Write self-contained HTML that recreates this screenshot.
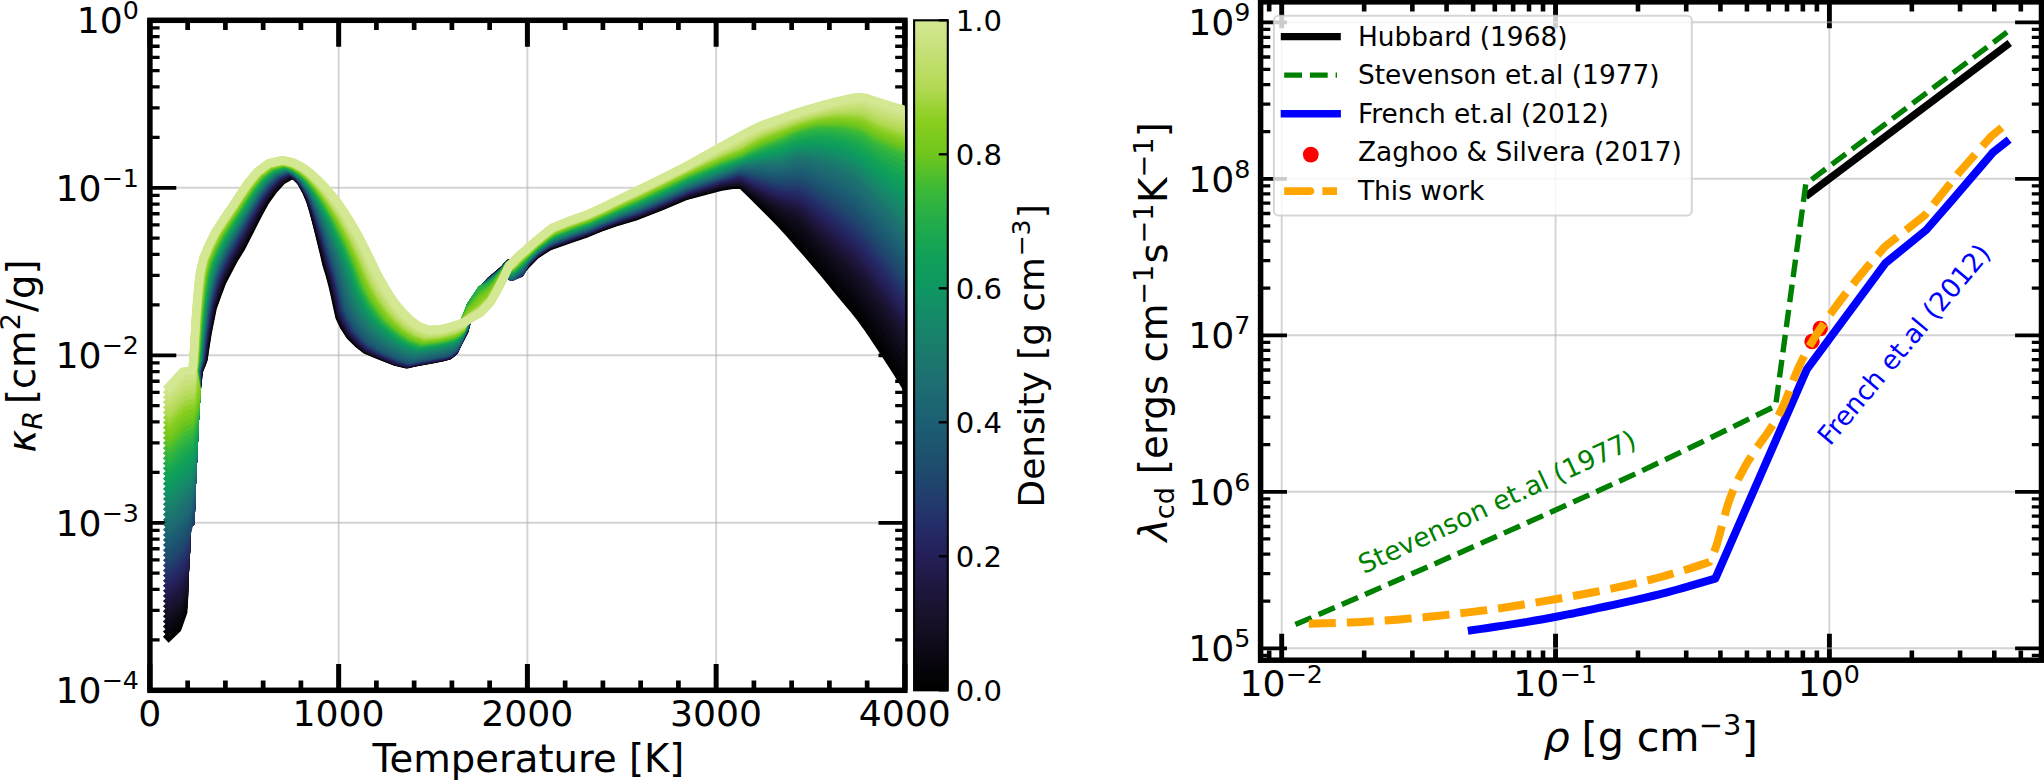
<!DOCTYPE html>
<html lang="en"><head><meta charset="utf-8"><title>Opacity and conductivity</title>
<style>html,body{margin:0;padding:0;background:#fff;overflow:hidden}svg{display:block}</style></head>
<body>
<svg width="2044" height="780" viewBox="0 0 2044 780" font-family="'DejaVu Sans','Liberation Sans',sans-serif" fill="#000">
<defs><clipPath id="clipL"><rect x="149.90" y="20.30" width="755.00" height="670.00"/></clipPath>
<clipPath id="clipR"><rect x="1260.60" y="1.85" width="780.90" height="658.35"/></clipPath></defs>
<rect width="2044" height="780" fill="#fff"/>
<line x1="338.65" y1="20.30" x2="338.65" y2="690.30" stroke="#b0b0b0" stroke-opacity="0.55" stroke-width="1.9"/>
<line x1="527.40" y1="20.30" x2="527.40" y2="690.30" stroke="#b0b0b0" stroke-opacity="0.55" stroke-width="1.9"/>
<line x1="716.15" y1="20.30" x2="716.15" y2="690.30" stroke="#b0b0b0" stroke-opacity="0.55" stroke-width="1.9"/>
<g stroke="#000" fill="none">
<path d="M149.90 690.30V663.90M149.90 20.30V46.70" stroke-width="5.0"/>
<path d="M187.65 690.30V680.60M187.65 20.30V30.00" stroke-width="4.7"/>
<path d="M225.40 690.30V680.60M225.40 20.30V30.00" stroke-width="4.7"/>
<path d="M263.15 690.30V680.60M263.15 20.30V30.00" stroke-width="4.7"/>
<path d="M300.90 690.30V680.60M300.90 20.30V30.00" stroke-width="4.7"/>
<path d="M338.65 690.30V663.90M338.65 20.30V46.70" stroke-width="5.0"/>
<path d="M376.40 690.30V680.60M376.40 20.30V30.00" stroke-width="4.7"/>
<path d="M414.15 690.30V680.60M414.15 20.30V30.00" stroke-width="4.7"/>
<path d="M451.90 690.30V680.60M451.90 20.30V30.00" stroke-width="4.7"/>
<path d="M489.65 690.30V680.60M489.65 20.30V30.00" stroke-width="4.7"/>
<path d="M527.40 690.30V663.90M527.40 20.30V46.70" stroke-width="5.0"/>
<path d="M565.15 690.30V680.60M565.15 20.30V30.00" stroke-width="4.7"/>
<path d="M602.90 690.30V680.60M602.90 20.30V30.00" stroke-width="4.7"/>
<path d="M640.65 690.30V680.60M640.65 20.30V30.00" stroke-width="4.7"/>
<path d="M678.40 690.30V680.60M678.40 20.30V30.00" stroke-width="4.7"/>
<path d="M716.15 690.30V663.90M716.15 20.30V46.70" stroke-width="5.0"/>
<path d="M753.90 690.30V680.60M753.90 20.30V30.00" stroke-width="4.7"/>
<path d="M791.65 690.30V680.60M791.65 20.30V30.00" stroke-width="4.7"/>
<path d="M829.40 690.30V680.60M829.40 20.30V30.00" stroke-width="4.7"/>
<path d="M867.15 690.30V680.60M867.15 20.30V30.00" stroke-width="4.7"/>
<path d="M904.90 690.30V663.90M904.90 20.30V46.70" stroke-width="5.0"/>
</g>
<line x1="149.90" y1="187.80" x2="904.90" y2="187.80" stroke="#b0b0b0" stroke-opacity="0.55" stroke-width="1.9"/>
<line x1="149.90" y1="355.30" x2="904.90" y2="355.30" stroke="#b0b0b0" stroke-opacity="0.55" stroke-width="1.9"/>
<line x1="149.90" y1="522.80" x2="904.90" y2="522.80" stroke="#b0b0b0" stroke-opacity="0.55" stroke-width="1.9"/>
<g stroke="#000" fill="none">
<path d="M149.90 690.30H176.30M904.90 690.30H878.50" stroke-width="3.7"/>
<path d="M149.90 639.88H159.60M904.90 639.88H895.20" stroke-width="3.3"/>
<path d="M149.90 610.38H159.60M904.90 610.38H895.20" stroke-width="3.3"/>
<path d="M149.90 589.45H159.60M904.90 589.45H895.20" stroke-width="3.3"/>
<path d="M149.90 573.22H159.60M904.90 573.22H895.20" stroke-width="3.3"/>
<path d="M149.90 559.96H159.60M904.90 559.96H895.20" stroke-width="3.3"/>
<path d="M149.90 548.75H159.60M904.90 548.75H895.20" stroke-width="3.3"/>
<path d="M149.90 539.03H159.60M904.90 539.03H895.20" stroke-width="3.3"/>
<path d="M149.90 530.46H159.60M904.90 530.46H895.20" stroke-width="3.3"/>
<path d="M149.90 522.80H176.30M904.90 522.80H878.50" stroke-width="3.7"/>
<path d="M149.90 472.38H159.60M904.90 472.38H895.20" stroke-width="3.3"/>
<path d="M149.90 442.88H159.60M904.90 442.88H895.20" stroke-width="3.3"/>
<path d="M149.90 421.95H159.60M904.90 421.95H895.20" stroke-width="3.3"/>
<path d="M149.90 405.72H159.60M904.90 405.72H895.20" stroke-width="3.3"/>
<path d="M149.90 392.46H159.60M904.90 392.46H895.20" stroke-width="3.3"/>
<path d="M149.90 381.25H159.60M904.90 381.25H895.20" stroke-width="3.3"/>
<path d="M149.90 371.53H159.60M904.90 371.53H895.20" stroke-width="3.3"/>
<path d="M149.90 362.96H159.60M904.90 362.96H895.20" stroke-width="3.3"/>
<path d="M149.90 355.30H176.30M904.90 355.30H878.50" stroke-width="3.7"/>
<path d="M149.90 304.88H159.60M904.90 304.88H895.20" stroke-width="3.3"/>
<path d="M149.90 275.38H159.60M904.90 275.38H895.20" stroke-width="3.3"/>
<path d="M149.90 254.45H159.60M904.90 254.45H895.20" stroke-width="3.3"/>
<path d="M149.90 238.22H159.60M904.90 238.22H895.20" stroke-width="3.3"/>
<path d="M149.90 224.96H159.60M904.90 224.96H895.20" stroke-width="3.3"/>
<path d="M149.90 213.75H159.60M904.90 213.75H895.20" stroke-width="3.3"/>
<path d="M149.90 204.03H159.60M904.90 204.03H895.20" stroke-width="3.3"/>
<path d="M149.90 195.46H159.60M904.90 195.46H895.20" stroke-width="3.3"/>
<path d="M149.90 187.80H176.30M904.90 187.80H878.50" stroke-width="3.7"/>
<path d="M149.90 137.38H159.60M904.90 137.38H895.20" stroke-width="3.3"/>
<path d="M149.90 107.88H159.60M904.90 107.88H895.20" stroke-width="3.3"/>
<path d="M149.90 86.95H159.60M904.90 86.95H895.20" stroke-width="3.3"/>
<path d="M149.90 70.72H159.60M904.90 70.72H895.20" stroke-width="3.3"/>
<path d="M149.90 57.46H159.60M904.90 57.46H895.20" stroke-width="3.3"/>
<path d="M149.90 46.25H159.60M904.90 46.25H895.20" stroke-width="3.3"/>
<path d="M149.90 36.53H159.60M904.90 36.53H895.20" stroke-width="3.3"/>
<path d="M149.90 27.96H159.60M904.90 27.96H895.20" stroke-width="3.3"/>
<path d="M149.90 20.30H176.30M904.90 20.30H878.50" stroke-width="3.7"/>
</g>
<rect x="149.90" y="20.30" width="755.00" height="670.00" fill="none" stroke="#000" stroke-width="5.5"/>
<g clip-path="url(#clipL)" fill="none" stroke-width="8.3" stroke-linecap="square" stroke-linejoin="round">
<path d="M168.8 636.8 L177.5 628.5 L183.3 611.8 L184.4 591.8 L184.4 581.0 L186.1 550.0 L186.1 523.2 L190.5 522.4 L192.0 481.0 L193.5 450.0 L195.0 417.0 L196.6 391.0 L199.0 371.0 L201.5 365.0 L203.6 359.4 L205.5 346.4 L207.6 333.3 L210.2 320.4 L212.8 307.5 L217.3 295.1 L221.9 282.7 L227.9 271.0 L234.1 259.3 L241.1 248.1 L247.1 236.4 L253.0 224.6 L259.0 212.9 L265.4 201.3 L273.1 190.6 L281.9 180.8 L293.2 174.1 L300.9 181.7 L306.1 191.2 L310.3 201.2 L313.4 211.6 L316.2 222.1 L318.8 232.6 L321.4 243.2 L324.0 253.7 L326.4 264.3 L329.6 274.7 L332.4 285.1 L334.8 295.7 L337.1 306.3 L339.4 316.9 L344.0 326.6 L349.9 335.7 L357.6 343.4 L366.0 350.0 L376.0 354.2 L386.1 358.2 L396.2 362.0 L406.8 364.4 L413.8 362.8 L420.8 361.4 L427.9 360.1 L435.0 358.8 L442.0 357.5 L449.0 355.6 L454.1 351.3 L457.2 344.9 L464.4 331.0 L470.8 306.5 L481.5 291.0 L490.6 280.7 L496.7 275.6 L504.4 269.0 L509.0 263.5 L511.5 266.0 L520.0 271.0 L526.0 265.0 L535.4 255.3 L547.7 247.2 L553.0 245.0 L571.5 238.5 L587.0 233.2 L602.3 227.0 L617.7 221.7 L637.0 216.0 L660.0 207.0 L686.0 196.0 L720.0 187.0 L740.4 183.6 L746.4 189.5 L752.4 195.4 L758.4 201.4 L764.4 207.4 L770.4 213.3 L776.4 219.4 L782.4 225.7 L788.4 232.3 L794.4 239.1 L800.4 246.0 L806.4 252.8 L812.4 259.7 L818.4 266.7 L824.4 273.8 L830.4 281.2 L836.4 288.6 L842.4 295.9 L848.4 303.0 L854.4 310.2 L860.4 317.8 L866.4 326.0 L872.4 334.7 L878.4 343.6 L884.4 352.7 L890.4 361.9 L896.4 371.4 L902.4 381.1 L906.0 387.0" stroke="#000000"/>
<path d="M168.8 631.7 L177.6 623.3 L183.5 606.9 L184.4 586.9 L184.4 581.0 L186.1 550.0 L186.1 523.2 L190.5 522.4 L192.0 481.0 L193.5 450.0 L195.0 417.0 L196.6 391.0 L198.8 371.0 L201.2 365.0 L203.3 359.4 L205.2 346.3 L207.3 333.3 L209.8 320.3 L212.4 307.3 L216.8 294.9 L221.3 282.4 L227.3 270.6 L233.5 259.0 L240.3 247.7 L246.5 236.0 L252.4 224.2 L258.5 212.4 L264.9 200.8 L272.7 190.1 L281.6 180.3 L292.9 173.8 L300.7 181.3 L306.0 190.6 L310.3 200.6 L313.5 211.0 L316.3 221.5 L319.0 232.0 L321.7 242.6 L324.3 253.1 L326.7 263.7 L329.9 274.1 L332.8 284.6 L335.2 295.2 L337.5 305.8 L339.8 316.4 L344.4 326.2 L350.2 335.3 L357.9 343.0 L366.2 349.7 L376.2 353.9 L386.2 357.9 L396.4 361.8 L406.9 364.2 L413.9 362.6 L420.9 361.2 L428.0 360.0 L435.0 358.7 L442.1 357.3 L449.0 355.5 L454.2 351.2 L457.2 344.8 L464.4 330.8 L470.8 306.5 L481.5 291.0 L490.6 280.8 L496.7 275.7 L504.4 269.1 L509.0 263.6 L511.5 266.8 L520.0 271.3 L526.0 264.7 L535.4 255.0 L547.7 246.9 L553.0 244.7 L571.5 238.2 L587.0 232.9 L602.3 226.6 L617.7 221.3 L637.0 215.5 L660.0 206.5 L686.0 195.5 L720.0 186.2 L740.4 182.9 L746.4 188.4 L752.4 193.9 L758.4 199.5 L764.4 205.0 L770.4 210.4 L776.4 216.0 L782.4 221.7 L788.4 227.5 L794.4 233.5 L800.4 239.7 L806.4 246.3 L812.4 253.1 L818.4 260.0 L824.4 267.0 L830.4 274.1 L836.4 281.2 L842.4 288.3 L848.4 295.1 L854.4 302.1 L860.4 309.5 L866.4 317.5 L872.4 326.1 L878.4 334.9 L884.4 343.8 L890.4 352.9 L896.4 362.2 L902.4 371.8 L906.0 377.6" stroke="#040307"/>
<path d="M168.8 626.6 L177.7 618.0 L183.7 601.9 L184.4 581.9 L186.1 550.0 L186.1 523.2 L190.5 522.4 L192.0 481.0 L193.5 450.0 L195.0 417.0 L196.6 391.0 L198.6 371.0 L201.0 365.0 L203.0 359.5 L204.9 346.3 L206.9 333.2 L209.4 320.2 L212.0 307.2 L216.3 294.6 L220.7 282.2 L226.6 270.3 L232.8 258.6 L239.6 247.2 L245.8 235.5 L251.8 223.7 L258.0 211.9 L264.4 200.3 L272.2 189.6 L281.2 179.9 L292.6 173.4 L300.5 180.8 L305.9 190.1 L310.3 200.0 L313.6 210.4 L316.5 220.9 L319.2 231.4 L321.9 242.0 L324.6 252.5 L327.1 263.1 L330.3 273.5 L333.1 284.0 L335.5 294.6 L337.8 305.3 L340.1 315.9 L344.7 325.7 L350.5 334.8 L358.1 342.6 L366.4 349.4 L376.4 353.6 L386.4 357.7 L396.5 361.6 L407.0 364.0 L414.0 362.5 L421.0 361.1 L428.0 359.8 L435.1 358.5 L442.1 357.2 L449.0 355.4 L454.2 351.1 L457.2 344.6 L464.4 330.6 L470.8 306.4 L481.5 290.9 L490.6 280.9 L496.7 275.8 L504.4 269.2 L509.0 263.6 L511.5 267.6 L520.0 271.6 L526.0 264.4 L535.4 254.8 L547.7 246.6 L553.0 244.4 L571.5 237.8 L587.0 232.5 L602.3 226.3 L617.7 220.9 L637.0 215.1 L660.0 206.0 L686.0 194.9 L720.0 185.4 L740.4 182.1 L746.4 187.3 L752.4 192.5 L758.4 197.6 L764.4 202.6 L770.4 207.6 L776.4 212.5 L782.4 217.6 L788.4 222.7 L794.4 227.8 L800.4 233.4 L806.4 239.7 L812.4 246.5 L818.4 253.4 L824.4 260.1 L830.4 266.9 L836.4 273.8 L842.4 280.6 L848.4 287.3 L854.4 294.0 L860.4 301.2 L866.4 309.1 L872.4 317.5 L878.4 326.1 L884.4 334.9 L890.4 343.9 L896.4 353.1 L902.4 362.5 L906.0 368.2" stroke="#08060e"/>
<path d="M168.8 621.5 L177.8 612.8 L183.9 597.0 L184.6 577.0 L186.1 550.0 L186.1 523.2 L190.5 522.4 L192.0 481.0 L193.5 450.0 L195.0 417.0 L196.6 391.0 L198.5 371.0 L200.8 365.0 L202.8 359.5 L204.6 346.3 L206.6 333.1 L209.0 320.1 L211.5 307.0 L215.7 294.4 L220.1 281.9 L225.9 270.0 L232.1 258.2 L238.9 246.8 L245.2 235.1 L251.3 223.2 L257.4 211.4 L263.9 199.8 L271.8 189.1 L280.8 179.4 L292.3 173.0 L300.3 180.3 L305.8 189.5 L310.3 199.4 L313.7 209.8 L316.6 220.3 L319.4 230.8 L322.2 241.4 L324.9 251.9 L327.4 262.5 L330.6 272.9 L333.5 283.4 L335.9 294.1 L338.2 304.7 L340.5 315.4 L345.0 325.2 L350.9 334.4 L358.4 342.2 L366.6 349.0 L376.5 353.3 L386.5 357.5 L396.6 361.4 L407.1 363.9 L414.1 362.3 L421.1 360.9 L428.1 359.7 L435.1 358.4 L442.1 357.0 L449.0 355.2 L454.2 351.0 L457.3 344.5 L464.4 330.4 L470.8 306.4 L481.5 290.9 L490.6 281.0 L496.7 275.9 L504.4 269.3 L509.0 263.7 L511.5 268.4 L520.0 271.9 L526.0 264.2 L535.4 254.5 L547.7 246.3 L553.0 244.0 L571.5 237.5 L587.0 232.2 L602.3 225.9 L617.7 220.5 L637.0 214.6 L660.0 205.5 L686.0 194.4 L720.0 184.7 L740.4 181.4 L746.4 186.2 L752.4 191.0 L758.4 195.6 L764.4 200.2 L770.4 204.7 L776.4 209.1 L782.4 213.6 L788.4 217.8 L794.4 222.2 L800.4 227.2 L806.4 233.1 L812.4 239.8 L818.4 246.7 L824.4 253.3 L830.4 259.8 L836.4 266.4 L842.4 273.0 L848.4 279.4 L854.4 285.9 L860.4 292.9 L866.4 300.7 L872.4 308.9 L878.4 317.4 L884.4 326.0 L890.4 334.8 L896.4 343.9 L902.4 353.2 L906.0 358.8" stroke="#0d0916"/>
<path d="M168.8 616.4 L177.9 607.5 L183.9 592.1 L184.9 572.1 L186.1 550.0 L186.1 523.2 L190.5 522.4 L192.0 481.0 L193.5 450.0 L195.0 417.0 L196.6 391.0 L198.3 371.0 L200.5 365.0 L202.5 359.5 L204.2 346.3 L206.2 333.1 L208.7 320.0 L211.1 306.9 L215.2 294.2 L219.5 281.6 L225.2 269.6 L231.4 257.8 L238.2 246.4 L244.5 234.6 L250.7 222.8 L256.9 211.0 L263.5 199.4 L271.3 188.6 L280.5 178.9 L292.0 172.6 L300.1 179.8 L305.7 189.0 L310.3 198.8 L313.8 209.2 L316.8 219.7 L319.7 230.2 L322.5 240.8 L325.2 251.3 L327.7 261.9 L331.0 272.3 L333.8 282.9 L336.2 293.5 L338.6 304.2 L340.9 314.9 L345.4 324.8 L351.2 333.9 L358.7 341.8 L366.9 348.7 L376.7 353.1 L386.7 357.2 L396.7 361.3 L407.2 363.7 L414.2 362.2 L421.2 360.8 L428.2 359.5 L435.2 358.2 L442.2 356.9 L449.1 355.1 L454.2 350.8 L457.3 344.4 L464.4 330.2 L470.8 306.4 L481.5 290.8 L490.6 281.1 L496.7 276.0 L504.4 269.3 L509.0 263.7 L511.5 269.3 L520.0 272.2 L526.0 263.9 L535.4 254.3 L547.7 246.0 L553.0 243.7 L571.5 237.2 L587.0 231.8 L602.3 225.6 L617.7 220.1 L637.0 214.1 L660.0 205.0 L686.0 193.8 L720.0 183.9 L740.4 180.7 L746.4 185.1 L752.4 189.5 L758.4 193.7 L764.4 197.8 L770.4 201.8 L776.4 205.7 L782.4 209.5 L788.4 213.0 L794.4 216.6 L800.4 220.9 L806.4 226.5 L812.4 233.2 L818.4 240.0 L824.4 246.4 L830.4 252.7 L836.4 259.0 L842.4 265.3 L848.4 271.5 L854.4 277.9 L860.4 284.7 L866.4 292.2 L872.4 300.3 L878.4 308.7 L884.4 317.1 L890.4 325.8 L896.4 334.7 L902.4 343.9 L906.0 349.4" stroke="#120d1e"/>
<path d="M168.8 611.3 L178.0 602.3 L183.9 587.2 L185.2 567.2 L186.1 550.0 L186.1 523.2 L190.5 522.4 L192.0 481.0 L193.5 450.0 L195.0 417.0 L196.6 391.0 L198.1 371.0 L200.3 365.0 L202.2 359.5 L203.9 346.3 L205.9 333.0 L208.3 319.9 L210.7 306.7 L214.7 294.0 L218.9 281.4 L224.6 269.3 L230.7 257.4 L237.5 245.9 L243.9 234.2 L250.1 222.3 L256.4 210.5 L263.0 198.9 L270.9 188.1 L280.1 178.4 L291.7 172.2 L299.9 179.3 L305.7 188.4 L310.3 198.2 L313.9 208.6 L317.0 219.1 L319.9 229.7 L322.7 240.2 L325.5 250.7 L328.1 261.3 L331.3 271.8 L334.2 282.3 L336.6 293.0 L338.9 303.7 L341.2 314.4 L345.7 324.3 L351.5 333.5 L359.0 341.4 L367.1 348.3 L376.9 352.8 L386.8 357.0 L396.8 361.1 L407.3 363.6 L414.3 362.0 L421.2 360.6 L428.2 359.4 L435.2 358.1 L442.2 356.8 L449.1 354.9 L454.3 350.7 L457.3 344.3 L464.4 330.0 L470.8 306.4 L481.5 290.8 L490.6 281.2 L496.7 276.1 L504.4 269.4 L509.0 263.8 L511.5 270.1 L520.0 272.5 L526.0 263.6 L535.4 254.0 L547.7 245.7 L553.0 243.4 L571.5 236.8 L587.0 231.5 L602.3 225.2 L617.7 219.7 L637.0 213.7 L660.0 204.5 L686.0 193.3 L720.0 183.1 L740.4 179.9 L746.4 184.0 L752.4 188.0 L758.4 191.8 L764.4 195.5 L770.4 199.0 L776.4 202.3 L782.4 205.6 L788.4 208.4 L794.4 211.3 L800.4 214.9 L806.4 220.2 L812.4 226.8 L818.4 233.6 L824.4 239.8 L830.4 245.8 L836.4 251.8 L842.4 257.9 L848.4 263.9 L854.4 270.1 L860.4 276.7 L866.4 284.1 L872.4 292.0 L878.4 300.2 L884.4 308.6 L890.4 317.1 L896.4 325.9 L902.4 334.9 L906.0 340.4" stroke="#161027"/>
<path d="M168.8 606.2 L178.1 597.0 L183.9 582.2 L185.4 562.2 L186.1 550.0 L186.1 523.2 L190.5 522.4 L192.0 481.0 L193.5 450.0 L195.0 417.0 L196.6 391.0 L197.9 371.0 L200.1 365.0 L201.9 359.5 L203.6 346.2 L205.6 333.0 L207.9 319.8 L210.2 306.6 L214.2 293.8 L218.3 281.1 L223.9 269.0 L230.0 257.0 L236.8 245.5 L243.2 233.7 L249.5 221.8 L255.8 210.0 L262.5 198.4 L270.4 187.6 L279.7 178.0 L291.4 171.8 L299.7 178.8 L305.6 187.9 L310.4 197.6 L314.0 208.0 L317.1 218.5 L320.1 229.1 L323.0 239.6 L325.8 250.1 L328.4 260.7 L331.7 271.2 L334.5 281.7 L337.0 292.4 L339.3 303.2 L341.6 313.9 L346.1 323.8 L351.8 333.1 L359.2 341.0 L367.3 348.0 L377.1 352.5 L387.0 356.8 L397.0 360.9 L407.4 363.4 L414.3 361.9 L421.3 360.5 L428.3 359.2 L435.3 357.9 L442.3 356.6 L449.1 354.8 L454.3 350.6 L457.4 344.2 L464.4 329.8 L470.8 306.3 L481.5 290.7 L490.6 281.3 L496.7 276.2 L504.4 269.5 L509.0 263.8 L511.5 271.0 L520.0 272.6 L526.0 263.3 L535.4 253.7 L547.7 245.4 L553.0 243.1 L571.5 236.5 L587.0 231.1 L602.3 224.9 L617.7 219.3 L637.0 213.2 L660.0 204.0 L686.0 192.7 L720.0 182.3 L740.4 178.8 L746.4 182.7 L752.4 186.5 L758.4 190.1 L764.4 193.6 L770.4 196.9 L776.4 200.1 L782.4 203.1 L788.4 205.6 L794.4 208.2 L800.4 211.5 L806.4 216.4 L812.4 222.7 L818.4 229.2 L824.4 235.2 L830.4 241.0 L836.4 246.9 L842.4 252.8 L848.4 258.7 L854.4 264.7 L860.4 271.2 L866.4 278.5 L872.4 286.4 L878.4 294.5 L884.4 302.8 L890.4 311.2 L896.4 319.9 L902.4 328.8 L906.0 334.3" stroke="#191330"/>
<path d="M168.8 601.1 L178.2 591.8 L184.1 577.3 L185.7 557.3 L186.1 550.0 L186.1 523.2 L190.5 522.4 L192.0 481.0 L193.5 450.0 L195.0 417.0 L196.6 391.0 L197.8 371.0 L199.8 365.0 L201.6 359.6 L203.3 346.2 L205.2 332.9 L207.5 319.7 L209.8 306.4 L213.7 293.6 L217.7 280.8 L223.2 268.6 L229.3 256.6 L236.1 245.0 L242.6 233.2 L248.9 221.4 L255.3 209.5 L262.0 197.9 L270.0 187.1 L279.4 177.5 L291.1 171.5 L299.5 178.3 L305.5 187.3 L310.4 197.1 L314.1 207.4 L317.3 217.9 L320.3 228.5 L323.3 239.0 L326.1 249.5 L328.8 260.1 L332.0 270.6 L334.9 281.2 L337.3 291.9 L339.7 302.6 L342.0 313.4 L346.4 323.3 L352.1 332.6 L359.5 340.6 L367.5 347.6 L377.3 352.2 L387.1 356.5 L397.1 360.7 L407.5 363.2 L414.4 361.7 L421.4 360.3 L428.4 359.1 L435.3 357.8 L442.3 356.5 L449.1 354.7 L454.3 350.4 L457.4 344.1 L464.4 329.6 L470.8 306.3 L481.5 290.7 L490.6 281.4 L496.7 276.3 L504.4 269.6 L509.0 263.9 L511.5 272.0 L520.0 272.8 L526.0 263.1 L535.4 253.5 L547.7 245.2 L553.0 242.8 L571.5 236.1 L587.0 230.8 L602.3 224.5 L617.7 218.9 L637.0 212.8 L660.0 203.5 L686.0 192.2 L720.0 181.6 L740.4 177.7 L746.4 181.4 L752.4 185.0 L758.4 188.4 L764.4 191.7 L770.4 194.8 L776.4 197.8 L782.4 200.6 L788.4 202.9 L794.4 205.1 L800.4 208.1 L806.4 212.7 L812.4 218.6 L818.4 224.8 L824.4 230.6 L830.4 236.2 L836.4 241.9 L842.4 247.7 L848.4 253.5 L854.4 259.4 L860.4 265.8 L866.4 273.0 L872.4 280.8 L878.4 288.8 L884.4 297.0 L890.4 305.4 L896.4 313.9 L902.4 322.7 L906.0 328.1" stroke="#1c1539"/>
<path d="M168.8 596.0 L178.3 586.5 L184.4 572.4 L186.0 552.4 L186.1 550.0 L186.1 523.2 L190.5 522.4 L192.0 481.0 L193.5 450.0 L195.0 417.0 L196.6 391.0 L197.6 371.0 L199.6 365.0 L201.4 359.6 L203.0 346.2 L204.9 332.8 L207.1 319.6 L209.4 306.3 L213.2 293.4 L217.2 280.6 L222.6 268.3 L228.7 256.3 L235.5 244.6 L242.0 232.8 L248.4 221.0 L254.8 209.1 L261.6 197.4 L269.6 186.6 L279.0 177.1 L290.9 171.1 L299.3 177.9 L305.4 186.8 L310.4 196.5 L314.2 206.8 L317.5 217.3 L320.6 227.8 L323.6 238.3 L326.4 248.8 L329.1 259.5 L332.4 269.9 L335.3 280.5 L337.8 291.2 L340.1 302.0 L342.4 312.8 L346.9 322.7 L352.5 332.1 L359.9 340.1 L367.9 347.2 L377.6 351.8 L387.4 356.2 L397.3 360.3 L407.7 362.9 L414.6 361.4 L421.5 360.1 L428.5 358.8 L435.4 357.5 L442.4 356.2 L449.2 354.4 L454.3 350.2 L457.4 343.9 L464.4 329.4 L470.8 306.3 L481.5 290.7 L490.6 281.5 L496.7 276.4 L504.4 269.7 L509.0 263.9 L511.5 273.0 L520.0 272.9 L526.0 262.8 L535.4 253.2 L547.7 244.9 L553.0 242.4 L571.5 235.8 L587.0 230.5 L602.3 224.2 L617.7 218.5 L637.0 212.3 L660.0 203.0 L686.0 191.6 L720.0 180.8 L740.4 176.6 L746.4 180.1 L752.4 183.5 L758.4 186.7 L764.4 189.8 L770.4 192.7 L776.4 195.5 L782.4 198.0 L788.4 200.1 L794.4 202.0 L800.4 204.7 L806.4 208.9 L812.4 214.5 L818.4 220.5 L824.4 226.0 L830.4 231.4 L836.4 237.0 L842.4 242.7 L848.4 248.3 L854.4 254.1 L860.4 260.4 L866.4 267.4 L872.4 275.1 L878.4 283.1 L884.4 291.2 L890.4 299.5 L896.4 308.0 L902.4 316.7 L906.0 322.0" stroke="#1f1843"/>
<path d="M168.8 590.9 L178.5 581.3 L184.6 567.4 L186.1 547.4 L186.1 523.2 L190.5 522.4 L192.0 481.0 L193.5 450.0 L195.0 417.0 L196.6 391.0 L197.4 371.0 L199.4 365.0 L201.1 359.6 L202.8 346.2 L204.6 332.8 L206.8 319.5 L209.0 306.1 L212.7 293.2 L216.6 280.3 L222.0 268.0 L228.0 255.9 L234.8 244.2 L241.4 232.4 L247.8 220.5 L254.3 208.7 L261.1 197.0 L269.2 186.2 L278.7 176.6 L290.6 170.8 L299.1 177.4 L305.3 186.2 L310.4 195.9 L314.3 206.2 L317.7 216.7 L320.8 227.2 L323.9 237.6 L326.8 248.2 L329.5 258.8 L332.8 269.2 L335.8 279.8 L338.2 290.5 L340.6 301.3 L342.9 312.1 L347.3 322.1 L353.0 331.4 L360.3 339.5 L368.3 346.6 L377.9 351.3 L387.6 355.7 L397.6 359.9 L407.9 362.6 L414.8 361.1 L421.7 359.7 L428.6 358.5 L435.5 357.2 L442.5 355.9 L449.3 354.1 L454.4 349.9 L457.5 343.7 L464.4 329.2 L470.8 306.3 L481.5 290.6 L490.6 281.5 L496.7 276.5 L504.4 269.8 L509.0 264.0 L511.5 273.9 L520.0 273.1 L526.0 262.5 L535.4 253.0 L547.7 244.6 L553.0 242.1 L571.5 235.5 L587.0 230.1 L602.3 223.8 L617.7 218.1 L637.0 211.8 L660.0 202.5 L686.0 191.1 L720.0 180.0 L740.4 175.5 L746.4 178.8 L752.4 182.0 L758.4 185.0 L764.4 187.9 L770.4 190.6 L776.4 193.2 L782.4 195.5 L788.4 197.3 L794.4 198.9 L800.4 201.2 L806.4 205.1 L812.4 210.4 L818.4 216.1 L824.4 221.4 L830.4 226.6 L836.4 232.1 L842.4 237.6 L848.4 243.0 L854.4 248.7 L860.4 254.9 L866.4 261.9 L872.4 269.5 L878.4 277.5 L884.4 285.4 L890.4 293.6 L896.4 302.0 L902.4 310.6 L906.0 315.9" stroke="#221c4f"/>
<path d="M168.8 585.8 L178.6 576.1 L184.9 562.5 L186.1 542.5 L186.1 523.2 L190.5 522.4 L192.0 481.0 L193.5 450.0 L195.0 417.0 L196.6 391.0 L197.3 371.0 L199.2 365.0 L200.9 359.6 L202.5 346.2 L204.3 332.7 L206.4 319.4 L208.6 306.0 L212.2 293.0 L216.1 280.1 L221.4 267.7 L227.4 255.6 L234.2 243.8 L240.8 232.0 L247.3 220.1 L253.8 208.2 L260.7 196.6 L268.8 185.7 L278.3 176.2 L290.3 170.4 L298.9 177.0 L305.2 185.7 L310.4 195.3 L314.4 205.6 L317.8 216.0 L321.1 226.5 L324.2 237.0 L327.2 247.5 L329.9 258.1 L333.2 268.5 L336.2 279.1 L338.7 289.8 L341.1 300.6 L343.4 311.4 L347.8 321.4 L353.4 330.8 L360.7 338.9 L368.6 346.0 L378.2 350.8 L387.9 355.3 L397.8 359.5 L408.2 362.2 L415.0 360.7 L421.9 359.4 L428.8 358.1 L435.7 356.9 L442.5 355.5 L449.3 353.8 L454.4 349.6 L457.6 343.4 L464.4 329.0 L470.8 306.2 L481.5 290.6 L490.6 281.6 L496.7 276.6 L504.4 269.9 L509.0 264.1 L511.5 274.9 L520.0 273.2 L526.0 262.2 L535.4 252.7 L547.7 244.3 L553.0 241.8 L571.5 235.1 L587.0 229.8 L602.3 223.5 L617.7 217.7 L637.0 211.4 L660.0 202.0 L686.0 190.5 L720.0 179.2 L740.4 174.4 L746.4 177.5 L752.4 180.5 L758.4 183.3 L764.4 185.9 L770.4 188.6 L776.4 191.0 L782.4 193.0 L788.4 194.5 L794.4 195.9 L800.4 197.8 L806.4 201.4 L812.4 206.3 L818.4 211.7 L824.4 216.7 L830.4 221.9 L836.4 227.1 L842.4 232.5 L848.4 237.8 L854.4 243.4 L860.4 249.5 L866.4 256.4 L872.4 263.9 L878.4 271.8 L884.4 279.7 L890.4 287.7 L896.4 296.0 L902.4 304.6 L906.0 309.8" stroke="#242059"/>
<path d="M168.8 580.7 L178.7 570.8 L185.2 557.6 L186.1 537.6 L186.1 523.2 L190.5 522.4 L192.0 481.0 L193.5 450.0 L195.0 417.0 L196.6 391.0 L197.1 371.0 L199.0 365.0 L200.6 359.6 L202.2 346.1 L204.0 332.7 L206.1 319.3 L208.3 305.9 L211.8 292.8 L215.5 279.8 L220.7 267.4 L226.8 255.2 L233.6 243.4 L240.2 231.6 L246.8 219.7 L253.3 207.8 L260.3 196.1 L268.4 185.2 L278.0 175.8 L290.1 170.1 L298.7 176.5 L305.1 185.2 L310.4 194.7 L314.5 204.9 L318.0 215.4 L321.3 225.9 L324.5 236.3 L327.5 246.8 L330.3 257.4 L333.7 267.8 L336.6 278.4 L339.2 289.1 L341.6 299.9 L343.9 310.7 L348.3 320.7 L353.9 330.1 L361.1 338.2 L369.0 345.4 L378.5 350.3 L388.2 354.8 L398.1 359.1 L408.4 361.8 L415.2 360.4 L422.1 359.0 L428.9 357.8 L435.8 356.5 L442.6 355.2 L449.4 353.4 L454.5 349.3 L457.6 343.2 L464.4 328.8 L470.8 306.2 L481.5 290.5 L490.6 281.7 L496.7 276.7 L504.4 270.0 L509.0 264.1 L511.5 275.8 L520.0 273.3 L526.0 262.0 L535.4 252.4 L547.7 244.0 L553.0 241.5 L571.5 234.8 L587.0 229.4 L602.3 223.1 L617.7 217.3 L637.0 210.9 L660.0 201.5 L686.0 190.0 L720.0 178.5 L740.4 173.4 L746.4 176.2 L752.4 179.0 L758.4 181.5 L764.4 184.0 L770.4 186.5 L776.4 188.7 L782.4 190.5 L788.4 191.7 L794.4 192.8 L800.4 194.4 L806.4 197.6 L812.4 202.2 L818.4 207.3 L824.4 212.1 L830.4 217.1 L836.4 222.2 L842.4 227.4 L848.4 232.6 L854.4 238.0 L860.4 244.0 L866.4 250.8 L872.4 258.3 L878.4 266.1 L884.4 273.9 L890.4 281.9 L896.4 290.1 L902.4 298.5 L906.0 303.7" stroke="#242661"/>
<path d="M168.8 575.6 L178.8 565.6 L185.5 552.7 L186.1 532.7 L186.1 523.2 L190.5 522.4 L192.0 481.0 L193.5 450.0 L195.0 417.0 L196.6 391.0 L197.0 371.0 L198.8 365.0 L200.4 359.7 L201.9 346.1 L203.7 332.6 L205.7 319.2 L207.9 305.7 L211.3 292.6 L215.0 279.6 L220.1 267.1 L226.2 254.9 L232.9 243.0 L239.6 231.2 L246.2 219.3 L252.9 207.4 L259.8 195.7 L268.0 184.8 L277.7 175.3 L289.8 169.7 L298.5 176.1 L305.0 184.6 L310.4 194.1 L314.6 204.3 L318.2 214.8 L321.5 225.2 L324.8 235.6 L327.9 246.1 L330.7 256.7 L334.1 267.1 L337.1 277.7 L339.6 288.4 L342.1 299.2 L344.4 310.0 L348.8 320.0 L354.4 329.5 L361.5 337.6 L369.4 344.9 L378.9 349.8 L388.5 354.4 L398.3 358.7 L408.7 361.4 L415.4 360.0 L422.3 358.7 L429.1 357.5 L435.9 356.2 L442.7 354.9 L449.4 353.1 L454.5 349.0 L457.7 343.0 L464.4 328.6 L470.8 306.2 L481.5 290.5 L490.6 281.8 L496.7 276.8 L504.4 270.0 L509.0 264.2 L511.5 276.8 L520.0 273.5 L526.0 261.7 L535.4 252.2 L547.7 243.7 L553.0 241.2 L571.5 234.5 L587.0 229.1 L602.3 222.8 L617.7 216.9 L637.0 210.4 L660.0 201.0 L686.0 189.4 L720.0 177.7 L740.4 172.3 L746.4 174.9 L752.4 177.4 L758.4 179.8 L764.4 182.1 L770.4 184.4 L776.4 186.4 L782.4 187.9 L788.4 188.9 L794.4 189.7 L800.4 191.0 L806.4 193.8 L812.4 198.1 L818.4 203.0 L824.4 207.5 L830.4 212.3 L836.4 217.2 L842.4 222.3 L848.4 227.4 L854.4 232.7 L860.4 238.6 L866.4 245.3 L872.4 252.7 L878.4 260.4 L884.4 268.1 L890.4 276.0 L896.4 284.1 L902.4 292.4 L906.0 297.5" stroke="#242c68"/>
<path d="M168.8 570.5 L178.9 560.3 L185.6 547.7 L186.1 527.7 L186.1 523.2 L190.5 522.4 L192.0 481.0 L193.5 450.0 L195.0 417.0 L196.6 391.0 L196.8 371.0 L198.6 365.0 L200.1 359.7 L201.7 346.1 L203.4 332.6 L205.4 319.1 L207.5 305.6 L210.8 292.4 L214.5 279.4 L219.5 266.8 L225.5 254.5 L232.3 242.6 L239.0 230.8 L245.7 218.9 L252.4 207.0 L259.4 195.2 L267.6 184.3 L277.4 174.9 L289.6 169.4 L298.3 175.6 L305.0 184.1 L310.4 193.6 L314.7 203.7 L318.4 214.1 L321.8 224.6 L325.1 234.9 L328.2 245.4 L331.1 256.0 L334.5 266.4 L337.5 277.0 L340.1 287.7 L342.6 298.5 L345.0 309.3 L349.3 319.4 L354.8 328.8 L362.0 337.0 L369.8 344.3 L379.2 349.3 L388.8 353.9 L398.6 358.3 L408.9 361.1 L415.7 359.6 L422.4 358.3 L429.2 357.1 L436.0 355.9 L442.8 354.5 L449.5 352.8 L454.6 348.7 L457.7 342.7 L464.4 328.3 L470.8 306.2 L481.5 290.4 L490.6 281.9 L496.7 276.9 L504.4 270.1 L509.0 264.2 L511.5 276.9 L520.0 273.0 L526.0 261.4 L535.4 251.9 L547.7 243.4 L553.0 240.8 L571.5 234.1 L587.0 228.8 L602.3 222.4 L617.7 216.5 L637.0 210.0 L660.0 200.5 L686.0 188.9 L720.0 177.0 L740.4 171.4 L746.4 173.8 L752.4 176.1 L758.4 178.2 L764.4 180.3 L770.4 182.5 L776.4 184.3 L782.4 185.6 L788.4 186.3 L794.4 186.8 L800.4 187.8 L806.4 190.4 L812.4 194.5 L818.4 199.1 L824.4 203.4 L830.4 207.9 L836.4 212.7 L842.4 217.6 L848.4 222.5 L854.4 227.7 L860.4 233.5 L866.4 240.1 L872.4 247.4 L878.4 255.0 L884.4 262.6 L890.4 270.4 L896.4 278.4 L902.4 286.6 L906.0 291.6" stroke="#23346b"/>
<path d="M168.8 565.4 L179.0 555.1 L185.6 542.8 L188.3 522.8 L192.0 481.0 L193.5 450.0 L195.0 417.0 L196.6 391.0 L196.6 371.0 L198.4 365.0 L199.9 359.7 L201.4 346.1 L203.1 332.5 L205.0 319.0 L207.1 305.4 L210.4 292.2 L213.9 279.1 L218.9 266.5 L224.9 254.2 L231.7 242.3 L238.4 230.4 L245.2 218.5 L251.9 206.5 L258.9 194.8 L267.2 183.9 L277.0 174.5 L289.3 169.0 L298.2 175.2 L304.9 183.6 L310.4 193.0 L314.8 203.1 L318.5 213.5 L322.0 223.9 L325.4 234.2 L328.6 244.7 L331.5 255.3 L334.9 265.7 L338.0 276.3 L340.6 287.0 L343.0 297.8 L345.5 308.6 L349.8 318.7 L355.3 328.1 L362.4 336.4 L370.1 343.7 L379.5 348.8 L389.1 353.5 L398.8 357.9 L409.1 360.7 L415.9 359.3 L422.6 358.0 L429.4 356.8 L436.2 355.5 L442.9 354.2 L449.6 352.4 L454.6 348.4 L457.8 342.5 L464.4 328.1 L470.8 306.1 L481.5 290.4 L490.6 282.0 L496.7 277.0 L504.4 270.2 L509.0 264.3 L511.5 276.8 L520.0 272.3 L526.0 261.1 L535.4 251.7 L547.7 243.1 L553.0 240.5 L571.5 233.8 L587.0 228.4 L602.3 222.1 L617.7 216.1 L637.0 209.5 L660.0 200.0 L686.0 188.4 L720.0 176.4 L740.4 170.6 L746.4 172.7 L752.4 174.7 L758.4 176.6 L764.4 178.6 L770.4 180.5 L776.4 182.2 L782.4 183.2 L788.4 183.7 L794.4 184.1 L800.4 184.8 L806.4 187.0 L812.4 190.9 L818.4 195.3 L824.4 199.4 L830.4 203.8 L836.4 208.3 L842.4 213.0 L848.4 217.8 L854.4 222.9 L860.4 228.5 L866.4 235.0 L872.4 242.2 L878.4 249.7 L884.4 257.2 L890.4 264.9 L896.4 272.7 L902.4 280.8 L906.0 285.7" stroke="#213c6c"/>
<path d="M168.8 560.3 L179.1 549.8 L185.6 537.9 L190.7 517.9 L192.0 481.0 L193.5 450.0 L195.0 417.0 L196.6 391.0 L196.5 371.0 L198.2 365.0 L199.6 359.7 L201.1 346.1 L202.8 332.5 L204.7 318.9 L206.7 305.3 L209.9 292.1 L213.4 278.9 L218.4 266.2 L224.3 253.8 L231.1 241.9 L237.9 230.0 L244.7 218.1 L251.5 206.1 L258.5 194.4 L266.8 183.5 L276.7 174.1 L289.0 168.7 L298.0 174.7 L304.8 183.0 L310.4 192.4 L314.9 202.5 L318.7 212.9 L322.3 223.2 L325.7 233.6 L328.9 244.0 L331.9 254.6 L335.3 265.0 L338.4 275.6 L341.0 286.3 L343.5 297.1 L346.0 307.9 L350.3 318.0 L355.8 327.5 L362.8 335.8 L370.5 343.2 L379.8 348.3 L389.4 353.1 L399.1 357.5 L409.4 360.3 L416.1 358.9 L422.8 357.6 L429.5 356.5 L436.3 355.2 L443.0 353.9 L449.6 352.1 L454.7 348.1 L457.9 342.2 L464.4 327.9 L470.8 306.1 L481.5 290.3 L490.6 282.1 L496.7 277.1 L504.4 270.3 L509.0 264.3 L511.5 276.6 L520.0 271.6 L526.0 260.9 L535.4 251.4 L547.7 242.8 L553.0 240.2 L571.5 233.5 L587.0 228.1 L602.3 221.7 L617.7 215.7 L637.0 209.1 L660.0 199.5 L686.0 187.8 L720.0 175.8 L740.4 169.8 L746.4 171.6 L752.4 173.4 L758.4 175.1 L764.4 176.8 L770.4 178.6 L776.4 180.1 L782.4 180.8 L788.4 181.1 L794.4 181.3 L800.4 181.7 L806.4 183.7 L812.4 187.4 L818.4 191.6 L824.4 195.5 L830.4 199.6 L836.4 203.9 L842.4 208.5 L848.4 213.1 L854.4 218.0 L860.4 223.5 L866.4 229.9 L872.4 237.0 L878.4 244.4 L884.4 251.8 L890.4 259.4 L896.4 267.1 L902.4 275.0 L906.0 279.8" stroke="#20446d"/>
<path d="M168.8 555.2 L179.2 544.6 L185.6 532.9 L190.9 512.9 L192.0 481.0 L193.5 450.0 L195.0 417.0 L196.6 391.0 L196.4 371.0 L198.0 365.0 L199.4 359.7 L200.9 346.1 L202.5 332.4 L204.4 318.8 L206.4 305.2 L209.6 291.9 L213.0 278.7 L217.9 266.0 L223.9 253.6 L230.6 241.6 L237.4 229.7 L244.3 217.8 L251.1 205.8 L258.2 194.0 L266.5 183.1 L276.5 173.8 L288.8 168.4 L297.8 174.4 L304.7 182.6 L310.4 191.9 L315.0 201.9 L318.9 212.2 L322.5 222.6 L326.0 232.9 L329.3 243.3 L332.3 253.9 L335.8 264.3 L338.8 274.9 L341.5 285.6 L344.0 296.4 L346.5 307.2 L350.8 317.3 L356.2 326.8 L363.2 335.2 L370.9 342.6 L380.2 347.8 L389.6 352.6 L399.3 357.1 L409.6 360.0 L416.3 358.6 L423.0 357.3 L429.7 356.1 L436.4 354.8 L443.1 353.5 L449.7 351.8 L454.8 347.8 L457.9 342.0 L464.4 327.7 L470.8 306.1 L481.5 290.3 L490.6 282.2 L496.7 277.2 L504.4 270.4 L509.0 264.4 L511.5 276.5 L520.0 270.9 L526.0 260.6 L535.4 251.2 L547.7 242.5 L553.0 239.9 L571.5 233.1 L587.0 227.7 L602.3 221.4 L617.7 215.3 L637.0 208.6 L660.0 199.0 L686.0 187.3 L720.0 175.2 L740.4 168.9 L746.4 170.5 L752.4 172.0 L758.4 173.5 L764.4 175.0 L770.4 176.7 L776.4 178.0 L782.4 178.5 L788.4 178.5 L794.4 178.6 L800.4 178.7 L806.4 180.4 L812.4 183.8 L818.4 187.9 L824.4 191.5 L830.4 195.4 L836.4 199.6 L842.4 203.9 L848.4 208.4 L854.4 213.2 L860.4 218.5 L866.4 224.8 L872.4 231.8 L878.4 239.2 L884.4 246.4 L890.4 253.9 L896.4 261.4 L902.4 269.2 L906.0 274.0" stroke="#1e4a6e"/>
<path d="M168.8 550.1 L179.3 539.3 L185.6 528.0 L191.0 508.0 L192.0 481.0 L193.5 450.0 L195.0 417.0 L196.6 391.0 L196.2 371.0 L197.9 365.0 L199.2 359.8 L200.7 346.1 L202.3 332.4 L204.2 318.7 L206.1 305.1 L209.2 291.8 L212.6 278.5 L217.4 265.7 L223.4 253.3 L230.1 241.3 L237.0 229.3 L243.9 217.4 L250.7 205.5 L257.9 193.7 L266.2 182.7 L276.2 173.4 L288.6 168.2 L297.7 174.0 L304.6 182.1 L310.4 191.4 L315.0 201.3 L319.1 211.6 L322.8 221.9 L326.3 232.2 L329.6 242.6 L332.7 253.2 L336.2 263.6 L339.3 274.2 L342.0 284.9 L344.5 295.7 L347.0 306.5 L351.3 316.6 L356.7 326.2 L363.7 334.6 L371.3 342.0 L380.5 347.3 L389.9 352.2 L399.6 356.7 L409.8 359.6 L416.5 358.2 L423.2 356.9 L429.9 355.8 L436.5 354.5 L443.2 353.2 L449.8 351.5 L454.8 347.5 L458.0 341.8 L464.4 327.5 L470.8 306.1 L481.5 290.3 L490.6 282.3 L496.7 277.3 L504.4 270.5 L509.0 264.4 L511.5 276.4 L520.0 270.3 L526.0 260.3 L535.4 250.9 L547.7 242.2 L553.0 239.6 L571.5 232.8 L587.0 227.4 L602.3 221.0 L617.7 214.9 L637.0 208.1 L660.0 198.5 L686.0 186.7 L720.0 174.6 L740.4 168.1 L746.4 169.4 L752.4 170.7 L758.4 171.9 L764.4 173.2 L770.4 174.7 L776.4 175.8 L782.4 176.1 L788.4 176.0 L794.4 175.8 L800.4 175.7 L806.4 177.1 L812.4 180.3 L818.4 184.1 L824.4 187.6 L830.4 191.2 L836.4 195.2 L842.4 199.4 L848.4 203.7 L854.4 208.3 L860.4 213.5 L866.4 219.7 L872.4 226.7 L878.4 233.9 L884.4 241.0 L890.4 248.3 L896.4 255.8 L902.4 263.4 L906.0 268.1" stroke="#1d506e"/>
<path d="M168.8 545.0 L179.4 534.1 L185.6 523.1 L191.2 503.1 L192.0 481.0 L193.5 450.0 L195.0 417.0 L196.6 391.0 L196.1 371.0 L197.7 365.0 L199.1 359.8 L200.5 346.0 L202.0 332.3 L203.9 318.7 L205.8 305.0 L208.8 291.6 L212.2 278.3 L216.9 265.5 L222.9 253.0 L229.6 241.0 L236.5 229.0 L243.4 217.1 L250.3 205.1 L257.5 193.4 L265.9 182.4 L275.9 173.1 L288.4 167.9 L297.5 173.6 L304.6 181.7 L310.4 190.8 L315.1 200.8 L319.2 211.0 L323.0 221.3 L326.6 231.5 L330.0 241.9 L333.1 252.5 L336.6 262.9 L339.7 273.5 L342.4 284.2 L345.0 295.0 L347.5 305.9 L351.8 316.0 L357.2 325.5 L364.1 333.9 L371.7 341.5 L380.8 346.8 L390.2 351.7 L399.8 356.3 L410.1 359.2 L416.7 357.9 L423.3 356.6 L430.0 355.5 L436.6 354.2 L443.3 352.9 L449.8 351.1 L454.9 347.2 L458.1 341.5 L464.4 327.3 L470.8 306.0 L481.5 290.2 L490.6 282.4 L496.7 277.4 L504.4 270.6 L509.0 264.5 L511.5 276.2 L520.0 269.6 L526.0 260.0 L535.4 250.6 L547.7 241.9 L553.0 239.2 L571.5 232.4 L587.0 227.0 L602.3 220.6 L617.7 214.6 L637.0 207.7 L660.0 198.0 L686.0 186.2 L720.0 174.0 L740.4 167.3 L746.4 168.3 L752.4 169.4 L758.4 170.4 L764.4 171.4 L770.4 172.7 L776.4 173.6 L782.4 173.8 L788.4 173.4 L794.4 172.9 L800.4 172.6 L806.4 174.0 L812.4 176.9 L818.4 180.4 L824.4 183.6 L830.4 187.1 L836.4 190.8 L842.4 194.8 L848.4 198.9 L854.4 203.5 L860.4 208.5 L866.4 214.6 L872.4 221.5 L878.4 228.6 L884.4 235.7 L890.4 242.8 L896.4 250.1 L902.4 257.6 L906.0 262.2" stroke="#1d5670"/>
<path d="M168.8 539.9 L179.5 528.8 L186.8 518.2 L191.4 498.2 L192.0 481.0 L193.5 450.0 L195.0 417.0 L196.6 391.0 L196.0 371.0 L197.5 365.0 L198.9 359.8 L200.3 346.0 L201.8 332.3 L203.6 318.6 L205.5 304.9 L208.5 291.5 L211.8 278.1 L216.5 265.3 L222.4 252.7 L229.1 240.7 L236.1 228.7 L243.0 216.8 L250.0 204.8 L257.2 193.0 L265.6 182.0 L275.7 172.8 L288.2 167.6 L297.3 173.2 L304.5 181.2 L310.4 190.3 L315.2 200.1 L319.5 210.2 L323.3 220.4 L327.0 230.6 L330.5 241.0 L333.7 251.4 L337.3 261.8 L340.5 272.4 L343.2 283.0 L345.9 293.8 L348.4 304.6 L352.7 314.7 L358.1 324.2 L365.0 332.6 L372.5 340.2 L381.6 345.6 L390.9 350.6 L400.5 355.3 L410.7 358.2 L417.3 356.9 L423.8 355.6 L430.4 354.5 L437.0 353.3 L443.5 352.0 L450.0 350.2 L455.0 346.4 L458.2 340.8 L464.4 327.1 L470.8 306.0 L481.5 290.2 L490.6 282.5 L496.7 277.5 L504.4 270.7 L509.0 264.5 L511.5 276.1 L520.0 268.9 L526.0 259.7 L535.4 250.4 L547.7 241.6 L553.0 238.9 L571.5 232.1 L587.0 226.7 L602.3 220.3 L617.7 214.1 L637.0 207.2 L660.0 197.4 L686.0 185.6 L720.0 173.4 L740.4 166.5 L746.4 167.3 L752.4 168.0 L758.4 168.8 L764.4 169.6 L770.4 170.6 L776.4 171.4 L782.4 171.5 L788.4 170.9 L794.4 170.0 L800.4 169.6 L806.4 170.8 L812.4 173.5 L818.4 176.7 L824.4 179.7 L830.4 182.9 L836.4 186.4 L842.4 190.2 L848.4 194.2 L854.4 198.6 L860.4 203.6 L866.4 209.5 L872.4 216.3 L878.4 223.3 L884.4 230.3 L890.4 237.3 L896.4 244.5 L902.4 251.8 L906.0 256.3" stroke="#1c5c72"/>
<path d="M168.8 534.8 L179.6 523.6 L187.0 513.2 L191.6 493.2 L192.0 481.0 L193.5 450.0 L195.0 417.0 L196.6 391.0 L195.9 371.0 L197.4 365.0 L198.7 359.8 L200.1 346.0 L201.6 332.2 L203.3 318.5 L205.2 304.8 L208.1 291.3 L211.3 277.9 L216.0 265.0 L221.9 252.5 L228.6 240.3 L235.6 228.4 L242.6 216.5 L249.6 204.5 L256.8 192.7 L265.3 181.7 L275.4 172.4 L288.0 167.4 L297.2 172.9 L304.4 180.7 L310.5 189.6 L315.4 199.4 L319.7 209.4 L323.6 219.6 L327.4 229.7 L331.0 239.9 L334.3 250.3 L337.9 260.7 L341.2 271.2 L344.1 281.8 L346.8 292.5 L349.4 303.2 L353.7 313.2 L359.1 322.8 L366.0 331.2 L373.4 338.8 L382.4 344.3 L391.7 349.4 L401.2 354.1 L411.5 357.0 L417.9 355.8 L424.4 354.6 L430.9 353.5 L437.4 352.2 L443.8 351.0 L450.2 349.2 L455.2 345.5 L458.4 340.1 L464.4 326.9 L470.8 306.0 L481.5 290.1 L490.6 282.6 L496.7 277.6 L504.4 270.7 L509.0 264.6 L511.5 275.8 L520.0 268.3 L526.0 259.4 L535.4 250.1 L547.7 241.3 L553.0 238.5 L571.5 231.7 L587.0 226.3 L602.3 219.9 L617.7 213.7 L637.0 206.6 L660.0 196.8 L686.0 185.0 L720.0 172.8 L740.4 165.7 L746.4 166.2 L752.4 166.7 L758.4 167.2 L764.4 167.8 L770.4 168.5 L776.4 169.1 L782.4 169.2 L788.4 168.4 L794.4 167.1 L800.4 166.6 L806.4 167.7 L812.4 170.1 L818.4 173.0 L824.4 175.7 L830.4 178.7 L836.4 182.1 L842.4 185.7 L848.4 189.5 L854.4 193.8 L860.4 198.6 L866.4 204.4 L872.4 211.1 L878.4 218.1 L884.4 224.9 L890.4 231.8 L896.4 238.9 L902.4 246.1 L906.0 250.4" stroke="#1c6173"/>
<path d="M168.8 529.7 L179.7 518.4 L187.2 508.3 L191.7 488.3 L192.0 481.0 L193.5 450.0 L195.0 417.0 L196.6 391.0 L195.8 371.0 L197.2 365.0 L198.5 359.8 L199.8 346.0 L201.3 332.2 L203.1 318.4 L204.9 304.7 L207.7 291.2 L210.9 277.8 L215.5 264.8 L221.4 252.2 L228.1 240.0 L235.1 228.1 L242.2 216.1 L249.2 204.1 L256.5 192.3 L265.0 181.3 L275.2 172.1 L287.8 167.1 L297.0 172.5 L304.3 180.2 L310.5 189.0 L315.5 198.7 L319.9 208.6 L324.0 218.7 L327.9 228.7 L331.5 238.9 L334.9 249.2 L338.6 259.5 L342.0 270.0 L344.9 280.5 L347.7 291.2 L350.4 301.8 L354.8 311.8 L360.2 321.3 L366.9 329.8 L374.4 337.4 L383.3 343.0 L392.5 348.2 L402.0 352.9 L412.2 355.9 L418.6 354.7 L424.9 353.5 L431.4 352.5 L437.7 351.2 L444.1 349.9 L450.4 348.2 L455.3 344.6 L458.6 339.4 L464.4 326.7 L470.8 305.9 L481.5 290.1 L490.6 282.7 L496.7 277.7 L504.4 270.8 L509.0 264.7 L511.5 275.3 L520.0 267.8 L526.0 259.1 L535.4 249.8 L547.7 241.0 L553.0 238.2 L571.5 231.3 L587.0 225.9 L602.3 219.5 L617.7 213.2 L637.0 206.1 L660.0 196.3 L686.0 184.4 L720.0 172.1 L740.4 164.9 L746.4 165.1 L752.4 165.3 L758.4 165.6 L764.4 166.0 L770.4 166.5 L776.4 166.9 L782.4 166.9 L788.4 165.8 L794.4 164.3 L800.4 163.6 L806.4 164.5 L812.4 166.7 L818.4 169.3 L824.4 171.8 L830.4 174.6 L836.4 177.7 L842.4 181.1 L848.4 184.8 L854.4 188.9 L860.4 193.6 L866.4 199.3 L872.4 205.9 L878.4 212.8 L884.4 219.5 L890.4 226.3 L896.4 233.2 L902.4 240.3 L906.0 244.6" stroke="#1d6672"/>
<path d="M168.8 524.6 L179.8 513.1 L187.3 503.4 L191.9 483.4 L192.0 481.0 L193.5 450.0 L195.0 417.0 L196.6 391.0 L195.6 371.0 L197.1 365.0 L198.3 359.8 L199.6 346.0 L201.1 332.1 L202.8 318.4 L204.6 304.6 L207.4 291.0 L210.5 277.6 L215.1 264.5 L220.9 251.9 L227.6 239.7 L234.7 227.8 L241.8 215.8 L248.8 203.8 L256.2 192.0 L264.7 181.0 L274.9 171.8 L287.6 166.8 L296.9 172.1 L304.2 179.7 L310.5 188.4 L315.6 198.0 L320.1 207.8 L324.3 217.8 L328.3 227.8 L332.0 237.9 L335.5 248.2 L339.3 258.4 L342.7 268.8 L345.7 279.3 L348.6 289.8 L351.4 300.4 L355.8 310.4 L361.2 319.9 L367.9 328.3 L375.3 336.0 L384.1 341.7 L393.2 347.0 L402.7 351.8 L412.9 354.8 L419.2 353.6 L425.5 352.5 L431.8 351.4 L438.1 350.2 L444.4 348.9 L450.6 347.3 L455.5 343.7 L458.8 338.6 L464.4 326.5 L470.8 305.9 L481.5 290.0 L490.6 282.8 L496.7 277.8 L504.4 270.9 L509.0 264.7 L511.5 274.8 L520.0 267.3 L526.0 258.8 L535.4 249.5 L547.7 240.6 L553.0 237.8 L571.5 230.9 L587.0 225.5 L602.3 219.1 L617.7 212.8 L637.0 205.6 L660.0 195.7 L686.0 183.8 L720.0 171.5 L740.4 164.0 L746.4 164.0 L752.4 164.1 L758.4 164.1 L764.4 164.2 L770.4 164.4 L776.4 164.6 L782.4 164.6 L788.4 163.3 L794.4 161.4 L800.4 160.6 L806.4 161.4 L812.4 163.3 L818.4 165.6 L824.4 167.8 L830.4 170.4 L836.4 173.3 L842.4 176.5 L848.4 180.1 L854.4 184.1 L860.4 188.6 L866.4 194.2 L872.4 200.7 L878.4 207.5 L884.4 214.1 L890.4 220.8 L896.4 227.6 L902.4 234.5 L906.0 238.7" stroke="#1d6c72"/>
<path d="M168.8 519.5 L179.9 507.9 L187.5 498.4 L192.1 478.4 L193.5 450.0 L195.0 417.0 L196.6 391.0 L195.5 371.0 L196.9 365.0 L198.1 359.9 L199.4 346.0 L200.9 332.1 L202.5 318.3 L204.3 304.5 L207.0 290.9 L210.1 277.4 L214.6 264.3 L220.5 251.7 L227.1 239.4 L234.2 227.4 L241.4 215.5 L248.5 203.5 L255.8 191.6 L264.4 180.6 L274.6 171.4 L287.4 166.6 L296.7 171.7 L304.2 179.1 L310.5 187.8 L315.7 197.3 L320.4 207.0 L324.6 216.9 L328.7 226.8 L332.6 236.9 L336.1 247.1 L340.0 257.2 L343.5 267.6 L346.6 278.0 L349.5 288.5 L352.4 299.1 L356.8 309.0 L362.2 318.4 L368.9 326.9 L376.2 334.6 L385.0 340.4 L394.0 345.8 L403.5 350.6 L413.6 353.6 L419.8 352.5 L426.1 351.4 L432.3 350.4 L438.5 349.2 L444.7 347.9 L450.8 346.3 L455.6 342.8 L459.0 337.9 L464.4 326.3 L470.8 305.9 L481.5 290.0 L490.6 282.9 L496.7 277.9 L504.4 271.0 L509.0 264.8 L511.5 274.3 L520.0 266.8 L526.0 258.4 L535.4 249.2 L547.7 240.3 L553.0 237.4 L571.5 230.5 L587.0 225.1 L602.3 218.7 L617.7 212.3 L637.0 205.1 L660.0 195.1 L686.0 183.2 L720.0 170.9 L740.4 163.2 L746.4 162.9 L752.4 162.6 L758.4 162.5 L764.4 162.4 L770.4 162.4 L776.4 162.4 L782.4 162.3 L788.4 160.7 L794.4 158.5 L800.4 157.5 L806.4 158.2 L812.4 159.9 L818.4 161.8 L824.4 163.8 L830.4 166.2 L836.4 169.0 L842.4 172.0 L848.4 175.4 L854.4 179.2 L860.4 183.6 L866.4 189.1 L872.4 195.5 L878.4 202.2 L884.4 208.7 L890.4 215.2 L896.4 221.9 L902.4 228.7 L906.0 232.8" stroke="#1c7170"/>
<path d="M168.8 514.4 L180.0 502.6 L187.7 493.5 L192.4 473.5 L193.5 450.0 L195.0 417.0 L196.6 391.0 L195.4 371.0 L196.7 365.0 L197.9 359.9 L199.2 346.0 L200.6 332.1 L202.2 318.2 L204.0 304.4 L206.7 290.7 L209.7 277.2 L214.1 264.1 L220.0 251.4 L226.6 239.1 L233.8 227.1 L241.0 215.2 L248.1 203.1 L255.5 191.3 L264.0 180.3 L274.4 171.1 L287.2 166.3 L296.5 171.3 L304.1 178.6 L310.5 187.2 L315.8 196.6 L320.6 206.2 L325.0 216.0 L329.1 225.9 L333.1 235.9 L336.7 246.0 L340.7 256.1 L344.2 266.4 L347.4 276.7 L350.4 287.2 L353.4 297.7 L357.8 307.6 L363.2 317.0 L369.9 325.5 L377.1 333.2 L385.8 339.1 L394.8 344.5 L404.2 349.5 L414.4 352.5 L420.5 351.4 L426.6 350.4 L432.7 349.4 L438.8 348.2 L444.9 346.9 L451.0 345.3 L455.8 341.9 L459.2 337.1 L464.4 326.1 L470.8 305.9 L481.5 290.0 L490.6 283.0 L496.7 278.0 L504.4 271.1 L509.0 264.8 L511.5 273.8 L520.0 266.3 L526.0 258.1 L535.4 248.9 L547.7 240.0 L553.0 237.1 L571.5 230.2 L587.0 224.8 L602.3 218.3 L617.7 211.9 L637.0 204.6 L660.0 194.6 L686.0 182.6 L720.0 170.3 L740.4 162.4 L746.4 161.8 L752.4 161.3 L758.4 160.9 L764.4 160.7 L770.4 160.5 L776.4 160.3 L782.4 160.0 L788.4 158.0 L794.4 155.6 L800.4 154.5 L806.4 155.1 L812.4 156.4 L818.4 158.1 L824.4 159.9 L830.4 162.0 L836.4 164.6 L842.4 167.4 L848.4 170.6 L854.4 174.4 L860.4 178.6 L866.4 184.0 L872.4 190.4 L878.4 196.9 L884.4 203.3 L890.4 209.7 L896.4 216.3 L902.4 222.9 L906.0 226.9" stroke="#1b766e"/>
<path d="M168.8 509.2 L180.2 497.4 L187.9 488.6 L192.6 468.6 L193.5 450.0 L195.0 417.0 L196.6 391.0 L195.3 371.0 L196.6 365.0 L197.7 359.9 L199.0 345.9 L200.4 332.0 L202.0 318.1 L203.7 304.2 L206.3 290.6 L209.2 277.0 L213.6 263.8 L219.5 251.1 L226.1 238.8 L233.3 226.8 L240.6 214.9 L247.7 202.8 L255.2 191.0 L263.7 179.9 L274.1 170.8 L287.0 166.0 L296.4 170.9 L304.0 178.1 L310.5 186.6 L315.9 195.9 L320.8 205.4 L325.3 215.2 L329.6 224.9 L333.6 234.8 L337.4 244.9 L341.3 255.0 L345.0 265.2 L348.2 275.5 L351.4 285.9 L354.4 296.3 L358.9 306.2 L364.3 315.6 L370.9 324.1 L378.1 331.8 L386.6 337.8 L395.6 343.3 L404.9 348.3 L415.1 351.4 L421.1 350.3 L427.2 349.3 L433.2 348.4 L439.2 347.1 L445.2 345.9 L451.1 344.3 L455.9 341.0 L459.4 336.4 L464.4 325.7 L470.8 305.8 L481.5 289.9 L490.6 283.2 L496.7 278.2 L504.4 271.2 L509.0 264.9 L511.5 273.2 L520.0 265.7 L526.0 257.8 L535.4 248.6 L547.7 239.6 L553.0 236.7 L571.5 229.8 L587.0 224.4 L602.3 217.9 L617.7 211.5 L637.0 204.1 L660.0 194.0 L686.0 182.0 L720.0 169.6 L740.4 161.6 L746.4 160.8 L752.4 160.1 L758.4 159.5 L764.4 159.1 L770.4 158.8 L776.4 158.4 L782.4 157.8 L788.4 155.7 L794.4 153.1 L800.4 152.0 L806.4 152.5 L812.4 153.6 L818.4 155.0 L824.4 156.5 L830.4 158.5 L836.4 160.8 L842.4 163.5 L848.4 166.6 L854.4 170.1 L860.4 174.3 L866.4 179.5 L872.4 185.7 L878.4 192.1 L884.4 198.3 L890.4 204.5 L896.4 210.8 L902.4 217.2 L906.0 221.1" stroke="#1a7c6c"/>
<path d="M168.8 504.1 L180.3 492.1 L188.1 483.7 L192.8 463.7 L193.5 450.0 L195.0 417.0 L196.6 391.0 L195.1 371.0 L196.4 365.0 L197.5 359.9 L198.8 345.9 L200.1 332.0 L201.7 318.1 L203.4 304.1 L205.9 290.4 L208.8 276.8 L213.2 263.6 L219.0 250.8 L225.6 238.5 L232.9 226.5 L240.2 214.5 L247.3 202.5 L254.8 190.6 L263.4 179.6 L273.9 170.4 L286.8 165.8 L296.2 170.5 L303.9 177.6 L310.5 186.0 L316.0 195.2 L321.0 204.6 L325.6 214.3 L330.0 224.0 L334.1 233.8 L338.0 243.8 L342.0 253.8 L345.7 263.9 L349.1 274.2 L352.3 284.6 L355.4 294.9 L359.9 304.8 L365.3 314.1 L371.8 322.6 L379.0 330.4 L387.5 336.5 L396.3 342.1 L405.7 347.1 L415.8 350.2 L421.7 349.2 L427.7 348.3 L433.7 347.3 L439.6 346.1 L445.5 344.9 L451.3 343.3 L456.1 340.1 L459.6 335.7 L464.4 325.2 L470.8 305.8 L481.5 289.9 L490.6 283.5 L496.7 278.5 L504.4 271.3 L509.0 264.9 L511.5 272.7 L520.0 265.2 L526.0 257.5 L535.4 248.4 L547.7 239.3 L553.0 236.3 L571.5 229.4 L587.0 224.0 L602.3 217.5 L617.7 211.0 L637.0 203.5 L660.0 193.4 L686.0 181.4 L720.0 168.8 L740.4 160.9 L746.4 159.9 L752.4 159.0 L758.4 158.2 L764.4 157.6 L770.4 157.2 L776.4 156.7 L782.4 155.9 L788.4 153.6 L794.4 151.1 L800.4 149.9 L806.4 150.3 L812.4 151.2 L818.4 152.4 L824.4 153.7 L830.4 155.5 L836.4 157.8 L842.4 160.3 L848.4 163.2 L854.4 166.6 L860.4 170.5 L866.4 175.5 L872.4 181.5 L878.4 187.7 L884.4 193.6 L890.4 199.5 L896.4 205.5 L902.4 211.5 L906.0 215.2" stroke="#18826b"/>
<path d="M168.8 499.0 L180.4 486.9 L188.3 478.7 L193.1 458.7 L193.5 450.0 L195.0 417.0 L196.6 391.0 L195.0 371.0 L196.3 365.0 L197.3 359.9 L198.5 345.9 L199.9 331.9 L201.4 318.0 L203.1 304.0 L205.6 290.3 L208.4 276.6 L212.7 263.4 L218.5 250.6 L225.1 238.2 L232.4 226.2 L239.7 214.2 L247.0 202.2 L254.5 190.3 L263.1 179.2 L273.6 170.1 L286.6 165.5 L296.0 170.1 L303.8 177.1 L310.5 185.4 L316.1 194.5 L321.2 203.8 L325.9 213.4 L330.4 223.0 L334.6 232.8 L338.6 242.7 L342.7 252.7 L346.5 262.7 L349.9 273.0 L353.2 283.3 L356.4 293.6 L360.9 303.4 L366.3 312.7 L372.8 321.2 L379.9 329.0 L388.3 335.2 L397.1 340.9 L406.4 346.0 L416.5 349.1 L422.4 348.1 L428.3 347.2 L434.1 346.3 L440.0 345.1 L445.8 343.9 L451.5 342.3 L456.3 339.2 L459.8 334.9 L464.4 324.7 L470.8 305.8 L481.5 289.8 L490.6 283.8 L496.7 278.8 L504.4 271.4 L509.0 265.0 L511.5 272.2 L520.0 264.7 L526.0 257.2 L535.4 248.1 L547.7 239.0 L553.0 236.0 L571.5 229.0 L587.0 223.6 L602.3 217.1 L617.7 210.6 L637.0 203.0 L660.0 192.9 L686.0 180.7 L720.0 168.0 L740.4 160.2 L746.4 159.0 L752.4 157.9 L758.4 157.0 L764.4 156.2 L770.4 155.6 L776.4 155.0 L782.4 153.9 L788.4 151.6 L794.4 149.0 L800.4 147.9 L806.4 148.2 L812.4 148.9 L818.4 149.8 L824.4 150.9 L830.4 152.6 L836.4 154.7 L842.4 157.0 L848.4 159.7 L854.4 163.0 L860.4 166.7 L866.4 171.6 L872.4 177.3 L878.4 183.3 L884.4 188.9 L890.4 194.5 L896.4 200.2 L902.4 205.9 L906.0 209.3" stroke="#168769"/>
<path d="M168.8 493.9 L180.5 481.6 L188.4 473.8 L193.3 453.8 L193.5 450.0 L195.0 417.0 L196.6 391.0 L194.9 371.0 L196.1 365.0 L197.1 359.9 L198.3 345.9 L199.7 331.9 L201.2 317.9 L202.8 303.9 L205.2 290.1 L208.0 276.4 L212.2 263.1 L218.0 250.3 L224.7 237.9 L231.9 225.9 L239.3 213.9 L246.6 201.8 L254.1 189.9 L262.8 178.9 L273.4 169.8 L286.4 165.2 L295.9 169.8 L303.7 176.6 L310.5 184.8 L316.2 193.8 L321.5 203.0 L326.3 212.5 L330.8 222.1 L335.2 231.8 L339.2 241.6 L343.4 251.5 L347.3 261.5 L350.8 271.7 L354.1 281.9 L357.4 292.2 L361.9 302.0 L367.3 311.3 L373.8 319.8 L380.8 327.7 L389.2 333.9 L397.9 339.7 L407.1 344.8 L417.3 347.9 L423.0 347.0 L428.8 346.2 L434.6 345.3 L440.3 344.1 L446.1 342.9 L451.7 341.3 L456.4 338.3 L460.0 334.2 L464.4 324.2 L470.8 305.8 L481.5 289.8 L490.6 284.1 L496.7 279.1 L504.4 271.4 L509.0 265.0 L511.5 271.7 L520.0 264.2 L526.0 256.8 L535.4 247.8 L547.7 238.7 L553.0 235.6 L571.5 228.6 L587.0 223.2 L602.3 216.7 L617.7 210.1 L637.0 202.5 L660.0 192.3 L686.0 180.1 L720.0 167.1 L740.4 159.4 L746.4 158.1 L752.4 156.8 L758.4 155.7 L764.4 154.8 L770.4 154.0 L776.4 153.2 L782.4 152.0 L788.4 149.6 L794.4 147.0 L800.4 145.9 L806.4 146.1 L812.4 146.5 L818.4 147.2 L824.4 148.1 L830.4 149.6 L836.4 151.6 L842.4 153.8 L848.4 156.3 L854.4 159.4 L860.4 163.0 L866.4 167.6 L872.4 173.1 L878.4 178.8 L884.4 184.2 L890.4 189.5 L896.4 194.9 L902.4 200.2 L906.0 203.4" stroke="#138e66"/>
<path d="M168.8 488.8 L180.6 476.4 L188.6 468.9 L193.6 448.9 L195.0 417.0 L196.6 391.0 L194.8 371.0 L195.9 365.0 L196.9 360.0 L198.1 345.9 L199.4 331.8 L200.9 317.8 L202.5 303.8 L204.8 290.0 L207.6 276.2 L211.7 262.9 L217.6 250.0 L224.2 237.6 L231.5 225.5 L238.9 213.6 L246.2 201.5 L253.8 189.6 L262.5 178.5 L273.1 169.4 L286.2 165.0 L295.7 169.4 L303.7 176.1 L310.5 184.2 L316.4 193.0 L321.7 202.2 L326.6 211.7 L331.3 221.1 L335.7 230.8 L339.8 240.6 L344.1 250.4 L348.0 260.3 L351.6 270.5 L355.0 280.6 L358.4 290.8 L363.0 300.5 L368.4 309.8 L374.8 318.4 L381.8 326.3 L390.0 332.6 L398.7 338.5 L407.9 343.7 L418.0 346.8 L423.7 345.9 L429.4 345.1 L435.1 344.3 L440.7 343.1 L446.4 341.8 L451.9 340.3 L456.6 337.4 L460.2 333.4 L464.4 323.7 L470.8 305.7 L481.5 289.7 L490.6 284.4 L496.7 279.4 L504.4 271.5 L509.0 265.1 L511.5 271.2 L520.0 263.7 L526.0 256.5 L535.4 247.5 L547.7 238.3 L553.0 235.2 L571.5 228.3 L587.0 222.9 L602.3 216.3 L617.7 209.7 L637.0 202.0 L660.0 191.7 L686.0 179.5 L720.0 166.3 L740.4 158.7 L746.4 157.2 L752.4 155.7 L758.4 154.4 L764.4 153.3 L770.4 152.4 L776.4 151.5 L782.4 150.1 L788.4 147.6 L794.4 144.9 L800.4 143.8 L806.4 143.9 L812.4 144.2 L818.4 144.6 L824.4 145.3 L830.4 146.6 L836.4 148.5 L842.4 150.5 L848.4 152.9 L854.4 155.8 L860.4 159.2 L866.4 163.6 L872.4 169.0 L878.4 174.4 L884.4 179.5 L890.4 184.5 L896.4 189.5 L902.4 194.5 L906.0 197.6" stroke="#0f9463"/>
<path d="M168.8 483.7 L180.7 471.2 L188.8 463.9 L193.8 443.9 L195.0 417.0 L196.6 391.0 L194.6 371.0 L195.8 365.0 L196.7 360.0 L197.9 345.9 L199.2 331.8 L200.6 317.7 L202.2 303.7 L204.5 289.8 L207.1 276.0 L211.2 262.6 L217.0 249.7 L223.6 237.2 L231.0 225.2 L238.5 213.2 L245.8 201.1 L253.4 189.2 L262.2 178.1 L272.8 169.1 L286.0 164.7 L295.5 169.0 L303.6 175.6 L310.5 183.6 L316.5 192.4 L321.9 201.5 L326.9 210.9 L331.7 220.3 L336.1 229.9 L340.3 239.6 L344.7 249.4 L348.7 259.3 L352.3 269.4 L355.8 279.5 L359.2 289.7 L363.8 299.4 L369.2 308.7 L375.6 317.2 L382.5 325.2 L390.7 331.6 L399.3 337.5 L408.4 342.8 L418.5 346.0 L424.1 345.1 L429.8 344.3 L435.4 343.5 L441.0 342.3 L446.6 341.1 L452.1 339.5 L456.7 336.7 L460.3 332.9 L464.4 323.2 L470.8 305.7 L481.5 289.7 L490.6 284.7 L496.7 279.7 L504.4 271.6 L509.0 265.2 L511.5 270.7 L520.0 263.2 L526.0 256.2 L535.4 247.2 L547.7 238.0 L553.0 234.8 L571.5 227.8 L587.0 222.4 L602.3 215.8 L617.7 209.2 L637.0 201.4 L660.0 191.1 L686.0 178.9 L720.0 165.5 L740.4 158.0 L746.4 156.3 L752.4 154.7 L758.4 153.2 L764.4 151.9 L770.4 150.8 L776.4 149.7 L782.4 148.2 L788.4 145.6 L794.4 142.9 L800.4 141.8 L806.4 141.8 L812.4 141.9 L818.4 142.1 L824.4 142.5 L830.4 143.7 L836.4 145.4 L842.4 147.3 L848.4 149.5 L854.4 152.3 L860.4 155.5 L866.4 159.7 L872.4 164.8 L878.4 170.0 L884.4 174.8 L890.4 179.5 L896.4 184.2 L902.4 188.9 L906.0 191.7" stroke="#0f9960"/>
<path d="M168.8 478.6 L180.8 465.9 L189.0 459.0 L194.0 439.0 L195.0 417.0 L196.6 391.0 L194.5 371.0 L195.6 365.0 L196.5 360.0 L197.6 345.9 L198.9 331.7 L200.3 317.7 L201.9 303.6 L204.0 289.7 L206.7 275.8 L210.7 262.4 L216.5 249.4 L223.1 236.9 L230.5 224.8 L238.0 212.9 L245.4 200.8 L253.1 188.8 L261.8 177.7 L272.5 168.7 L285.7 164.4 L295.4 168.6 L303.5 175.1 L310.5 183.0 L316.6 191.7 L322.1 200.8 L327.2 210.1 L332.0 219.5 L336.6 229.0 L340.8 238.8 L345.2 248.5 L349.2 258.4 L352.9 268.5 L356.4 278.6 L359.9 288.7 L364.5 298.4 L369.9 307.7 L376.2 316.3 L383.1 324.3 L391.2 330.8 L399.7 336.8 L408.8 342.1 L418.9 345.3 L424.5 344.5 L430.1 343.7 L435.7 342.9 L441.2 341.7 L446.7 340.5 L452.2 339.0 L456.8 336.2 L460.4 332.5 L464.4 322.7 L470.8 305.7 L481.5 289.6 L490.6 285.0 L496.7 280.0 L504.4 271.7 L509.0 265.2 L511.5 270.3 L520.0 262.7 L526.0 255.8 L535.4 246.8 L547.7 237.6 L553.0 234.4 L571.5 227.4 L587.0 222.0 L602.3 215.3 L617.7 208.7 L637.0 200.8 L660.0 190.4 L686.0 178.1 L720.0 164.7 L740.4 157.2 L746.4 155.3 L752.4 153.6 L758.4 151.9 L764.4 150.5 L770.4 149.2 L776.4 147.9 L782.4 146.3 L788.4 143.6 L794.4 140.9 L800.4 139.7 L806.4 139.6 L812.4 139.5 L818.4 139.5 L824.4 139.7 L830.4 140.7 L836.4 142.3 L842.4 144.0 L848.4 146.1 L854.4 148.7 L860.4 151.7 L866.4 155.7 L872.4 160.6 L878.4 165.6 L884.4 170.1 L890.4 174.5 L896.4 178.9 L902.4 183.2 L906.0 185.8" stroke="#109e5b"/>
<path d="M168.8 473.5 L180.9 460.7 L189.2 454.1 L194.2 434.1 L195.0 417.0 L196.6 391.0 L194.3 371.0 L195.4 365.0 L196.3 360.0 L197.4 345.8 L198.6 331.7 L200.0 317.6 L201.5 303.5 L203.6 289.5 L206.2 275.6 L210.2 262.1 L215.9 249.1 L222.5 236.6 L230.0 224.5 L237.6 212.5 L245.0 200.4 L252.7 188.5 L261.5 177.3 L272.2 168.3 L285.5 164.1 L295.2 168.1 L303.4 174.6 L310.5 182.4 L316.7 191.1 L322.3 200.1 L327.4 209.4 L332.4 218.7 L337.0 228.2 L341.3 237.9 L345.7 247.7 L349.8 257.5 L353.5 267.6 L357.1 277.7 L360.6 287.8 L365.2 297.5 L370.5 306.8 L376.8 315.4 L383.7 323.4 L391.7 330.0 L400.2 336.1 L409.3 341.4 L419.4 344.6 L424.9 343.8 L430.4 343.1 L436.0 342.3 L441.4 341.1 L446.9 339.9 L452.3 338.4 L456.9 335.7 L460.5 332.0 L464.4 322.2 L470.8 305.7 L481.5 289.6 L490.6 285.3 L496.7 280.3 L504.4 271.8 L509.0 265.3 L511.5 269.8 L520.0 262.2 L526.0 255.4 L535.4 246.5 L547.7 237.2 L553.0 234.0 L571.5 226.9 L587.0 221.5 L602.3 214.9 L617.7 208.1 L637.0 200.2 L660.0 189.7 L686.0 177.4 L720.0 163.9 L740.4 156.5 L746.4 154.4 L752.4 152.5 L758.4 150.7 L764.4 149.0 L770.4 147.6 L776.4 146.2 L782.4 144.4 L788.4 141.7 L794.4 139.0 L800.4 137.7 L806.4 137.3 L812.4 137.0 L818.4 136.8 L824.4 136.9 L830.4 137.9 L836.4 139.2 L842.4 140.7 L848.4 142.7 L854.4 145.1 L860.4 147.9 L866.4 151.7 L872.4 156.4 L878.4 161.2 L884.4 165.4 L890.4 169.5 L896.4 173.6 L902.4 177.6 L906.0 179.9" stroke="#12a257"/>
<path d="M168.8 468.4 L181.0 455.4 L189.4 449.2 L194.4 429.2 L195.0 417.0 L196.6 391.0 L194.2 371.0 L195.2 365.0 L196.0 360.0 L197.2 345.8 L198.4 331.7 L199.7 317.5 L201.2 303.3 L203.2 289.3 L205.7 275.4 L209.6 261.8 L215.4 248.8 L222.0 236.2 L229.5 224.1 L237.1 212.1 L244.6 200.0 L252.3 188.1 L261.1 176.9 L271.9 168.0 L285.3 163.8 L295.0 167.7 L303.3 174.1 L310.6 181.8 L316.8 190.5 L322.5 199.4 L327.7 208.6 L332.7 217.9 L337.4 227.4 L341.8 237.1 L346.2 246.8 L350.3 256.6 L354.1 266.6 L357.7 276.7 L361.3 286.8 L365.9 296.5 L371.2 305.8 L377.5 314.5 L384.3 322.5 L392.2 329.2 L400.7 335.3 L409.7 340.7 L419.8 344.0 L425.3 343.2 L430.8 342.5 L436.2 341.7 L441.6 340.5 L447.1 339.3 L452.4 337.8 L457.0 335.1 L460.7 331.6 L464.4 321.7 L470.8 305.6 L481.5 289.6 L490.6 285.6 L496.7 280.6 L504.4 271.9 L509.0 265.3 L511.5 269.3 L520.0 261.7 L526.0 255.1 L535.4 246.2 L547.7 236.8 L553.0 233.5 L571.5 226.4 L587.0 221.0 L602.3 214.4 L617.7 207.6 L637.0 199.6 L660.0 189.0 L686.0 176.7 L720.0 163.1 L740.4 155.8 L746.4 153.5 L752.4 151.4 L758.4 149.4 L764.4 147.6 L770.4 146.0 L776.4 144.4 L782.4 142.5 L788.4 139.8 L794.4 137.1 L800.4 135.6 L806.4 134.9 L812.4 134.4 L818.4 134.1 L824.4 134.2 L830.4 135.0 L836.4 136.2 L842.4 137.5 L848.4 139.3 L854.4 141.5 L860.4 144.2 L866.4 147.8 L872.4 152.3 L878.4 156.7 L884.4 160.7 L890.4 164.6 L896.4 168.3 L902.4 171.9 L906.0 174.0" stroke="#19a651"/>
<path d="M168.8 463.3 L181.1 450.2 L189.5 444.2 L194.7 424.2 L195.0 417.0 L196.6 391.0 L194.1 371.0 L195.0 365.0 L195.8 360.0 L196.9 345.8 L198.1 331.6 L199.4 317.4 L200.8 303.2 L202.8 289.2 L205.2 275.2 L209.1 261.6 L214.9 248.5 L221.4 235.9 L228.9 223.8 L236.6 211.8 L244.1 199.6 L251.9 187.7 L260.8 176.5 L271.7 167.6 L285.0 163.5 L294.8 167.3 L303.3 173.6 L310.6 181.3 L316.9 189.8 L322.7 198.7 L328.0 207.9 L333.1 217.1 L337.8 226.6 L342.3 236.2 L346.7 245.9 L350.9 255.7 L354.7 265.7 L358.4 275.8 L362.0 285.9 L366.6 295.6 L371.9 304.9 L378.1 313.5 L384.8 321.6 L392.8 328.3 L401.1 334.6 L410.2 340.0 L420.2 343.3 L425.6 342.5 L431.1 341.9 L436.5 341.1 L441.9 339.9 L447.2 338.7 L452.5 337.2 L457.1 334.6 L460.8 331.1 L464.4 321.2 L470.8 305.6 L481.5 289.5 L490.6 285.9 L496.7 280.9 L504.4 272.0 L509.0 265.4 L511.5 268.9 L520.0 261.2 L526.0 254.7 L535.4 245.8 L547.7 236.4 L553.0 233.1 L571.5 226.0 L587.0 220.6 L602.3 213.9 L617.7 207.1 L637.0 198.9 L660.0 188.4 L686.0 175.9 L720.0 162.2 L740.4 155.0 L746.4 152.6 L752.4 150.3 L758.4 148.1 L764.4 146.2 L770.4 144.4 L776.4 142.6 L782.4 140.6 L788.4 137.9 L794.4 135.2 L800.4 133.5 L806.4 132.6 L812.4 131.9 L818.4 131.5 L824.4 131.5 L830.4 132.1 L836.4 133.1 L842.4 134.2 L848.4 135.8 L854.4 137.9 L860.4 140.4 L866.4 143.8 L872.4 148.1 L878.4 152.3 L884.4 156.0 L890.4 159.6 L896.4 163.0 L902.4 166.3 L906.0 168.2" stroke="#20ab4c"/>
<path d="M168.8 458.2 L181.2 444.9 L189.7 439.3 L194.9 419.3 L195.0 417.0 L196.6 391.0 L193.9 371.0 L194.9 365.0 L195.6 360.1 L196.7 345.8 L197.8 331.6 L199.1 317.3 L200.5 303.1 L202.4 289.0 L204.8 275.0 L208.6 261.3 L214.3 248.2 L220.9 235.5 L228.4 223.4 L236.2 211.4 L243.7 199.3 L251.5 187.3 L260.4 176.1 L271.4 167.2 L284.8 163.2 L294.7 166.9 L303.2 173.1 L310.6 180.7 L317.0 189.2 L322.9 198.0 L328.3 207.2 L333.4 216.3 L338.2 225.8 L342.7 235.4 L347.3 245.0 L351.5 254.9 L355.3 264.8 L359.1 274.8 L362.7 284.9 L367.3 294.6 L372.6 303.9 L378.7 312.6 L385.4 320.7 L393.3 327.5 L401.6 333.8 L410.6 339.3 L420.6 342.6 L426.0 341.9 L431.4 341.2 L436.8 340.5 L442.1 339.3 L447.4 338.1 L452.6 336.6 L457.2 334.1 L460.9 330.7 L464.4 321.0 L470.8 306.4 L481.5 290.9 L490.6 286.9 L496.7 281.6 L504.4 272.3 L509.0 265.4 L511.5 268.4 L520.0 260.6 L526.0 254.3 L535.4 245.5 L547.7 236.0 L553.0 232.6 L571.5 225.5 L587.0 220.1 L602.3 213.4 L617.7 206.5 L637.0 198.3 L660.0 187.7 L686.0 175.2 L720.0 161.4 L740.4 154.3 L746.4 151.7 L752.4 149.2 L758.4 146.9 L764.4 144.7 L770.4 142.8 L776.4 140.8 L782.4 138.7 L788.4 136.0 L794.4 133.3 L800.4 131.5 L806.4 130.3 L812.4 129.3 L818.4 128.8 L824.4 128.8 L830.4 129.3 L836.4 130.0 L842.4 131.0 L848.4 132.4 L854.4 134.4 L860.4 136.7 L866.4 139.9 L872.4 143.9 L878.4 147.9 L884.4 151.3 L890.4 154.6 L896.4 157.7 L902.4 160.6 L906.0 162.3" stroke="#2ab044"/>
<path d="M168.8 453.1 L181.3 439.7 L189.9 434.4 L195.2 414.4 L196.6 391.0 L193.8 371.0 L194.7 365.0 L195.4 360.1 L196.4 345.8 L197.5 331.5 L198.7 317.2 L200.2 303.0 L202.0 288.8 L204.3 274.8 L208.0 261.0 L213.8 247.9 L220.3 235.2 L227.9 223.0 L235.7 211.0 L243.3 198.9 L251.1 186.9 L260.1 175.7 L271.1 166.8 L284.6 162.9 L294.5 166.5 L303.1 172.5 L310.6 180.1 L317.1 188.5 L323.0 197.3 L328.5 206.4 L333.8 215.6 L338.6 224.9 L343.2 234.5 L347.8 244.2 L352.0 254.0 L356.0 263.9 L359.7 273.9 L363.4 284.0 L368.0 293.6 L373.3 303.0 L379.4 311.7 L386.0 319.9 L393.8 326.7 L402.1 333.1 L411.0 338.6 L421.1 342.0 L426.4 341.3 L431.7 340.6 L437.0 339.9 L442.3 338.7 L447.6 337.5 L452.7 336.0 L457.2 333.5 L461.0 330.3 L464.4 321.1 L470.8 307.5 L481.5 292.8 L490.6 288.1 L496.7 282.4 L504.4 272.7 L509.0 265.5 L511.5 268.0 L520.0 260.1 L526.0 254.0 L535.4 245.1 L547.7 235.6 L553.0 232.2 L571.5 225.1 L587.0 219.7 L602.3 212.9 L617.7 206.0 L637.0 197.7 L660.0 187.0 L686.0 174.5 L720.0 160.6 L740.4 153.6 L746.4 150.8 L752.4 148.1 L758.4 145.6 L764.4 143.3 L770.4 141.2 L776.4 139.0 L782.4 136.8 L788.4 134.0 L794.4 131.4 L800.4 129.4 L806.4 128.0 L812.4 126.8 L818.4 126.1 L824.4 126.1 L830.4 126.4 L836.4 127.0 L842.4 127.7 L848.4 129.0 L854.4 130.8 L860.4 132.9 L866.4 135.9 L872.4 139.7 L878.4 143.5 L884.4 146.6 L890.4 149.6 L896.4 152.3 L902.4 154.9 L906.0 156.4" stroke="#35b63c"/>
<path d="M168.8 448.0 L181.4 434.4 L190.1 429.4 L195.5 409.4 L196.6 391.0 L193.7 371.0 L194.5 365.0 L195.2 360.1 L196.2 345.8 L197.3 331.5 L198.4 317.2 L199.8 302.9 L201.6 288.7 L203.8 274.6 L207.5 260.8 L213.2 247.6 L219.7 234.8 L227.4 222.7 L235.2 210.7 L242.9 198.5 L250.8 186.5 L259.7 175.3 L270.8 166.5 L284.3 162.6 L294.3 166.1 L303.0 172.0 L310.6 179.5 L317.2 187.9 L323.2 196.6 L328.8 205.7 L334.1 214.8 L339.1 224.1 L343.7 233.7 L348.3 243.3 L352.6 253.1 L356.6 263.0 L360.4 273.0 L364.1 283.0 L368.7 292.7 L373.9 302.0 L380.0 310.7 L386.6 319.0 L394.3 325.9 L402.6 332.3 L411.5 337.9 L421.5 341.3 L426.8 340.6 L432.1 340.0 L437.3 339.3 L442.5 338.1 L447.7 336.9 L452.8 335.5 L457.3 333.0 L461.1 329.8 L464.4 321.2 L470.8 308.6 L481.5 294.7 L490.6 289.3 L496.7 283.2 L504.4 273.1 L509.0 265.5 L511.5 267.5 L520.0 259.6 L526.0 253.6 L535.4 244.8 L547.7 235.3 L553.0 231.8 L571.5 224.6 L587.0 219.2 L602.3 212.5 L617.7 205.5 L637.0 197.1 L660.0 186.3 L686.0 173.7 L720.0 159.7 L740.4 152.7 L746.4 149.8 L752.4 147.0 L758.4 144.3 L764.4 141.8 L770.4 139.6 L776.4 137.3 L782.4 135.0 L788.4 132.2 L794.4 129.6 L800.4 127.6 L806.4 126.0 L812.4 124.6 L818.4 123.7 L824.4 123.6 L830.4 123.9 L836.4 124.2 L842.4 124.7 L848.4 125.9 L854.4 127.5 L860.4 129.4 L866.4 132.2 L872.4 135.9 L878.4 139.5 L884.4 142.4 L890.4 145.1 L896.4 147.6 L902.4 149.9 L906.0 151.2" stroke="#43bb33"/>
<path d="M168.8 442.9 L181.5 429.2 L190.3 424.5 L195.8 404.5 L196.6 391.0 L193.5 371.0 L194.3 365.0 L194.9 360.1 L196.0 345.8 L197.0 331.4 L198.1 317.1 L199.5 302.7 L201.2 288.5 L203.4 274.3 L207.0 260.5 L212.7 247.3 L219.2 234.5 L226.9 222.3 L234.8 210.3 L242.4 198.1 L250.4 186.1 L259.4 174.9 L270.5 166.1 L284.1 162.3 L294.1 165.7 L302.9 171.5 L310.6 178.9 L317.3 187.2 L323.4 195.9 L329.1 204.9 L334.5 214.0 L339.5 223.3 L344.2 232.8 L348.8 242.4 L353.2 252.2 L357.2 262.1 L361.0 272.0 L364.8 282.0 L369.4 291.7 L374.6 301.0 L380.7 309.8 L387.2 318.1 L394.9 325.1 L403.0 331.6 L411.9 337.2 L421.9 340.6 L427.1 340.0 L432.4 339.4 L437.6 338.7 L442.7 337.5 L447.9 336.3 L453.0 334.9 L457.4 332.5 L461.2 329.4 L464.4 321.3 L470.8 309.7 L481.5 296.7 L490.6 290.5 L496.7 284.0 L504.4 273.5 L509.0 265.6 L511.5 267.1 L520.0 259.1 L526.0 253.2 L535.4 244.4 L547.7 234.9 L553.0 231.3 L571.5 224.2 L587.0 218.8 L602.3 212.0 L617.7 204.9 L637.0 196.4 L660.0 185.6 L686.0 173.0 L720.0 158.7 L740.4 151.5 L746.4 148.4 L752.4 145.5 L758.4 142.8 L764.4 140.3 L770.4 138.1 L776.4 135.8 L782.4 133.5 L788.4 130.8 L794.4 128.2 L800.4 126.2 L806.4 124.5 L812.4 123.1 L818.4 122.2 L824.4 122.1 L830.4 122.2 L836.4 122.3 L842.4 122.6 L848.4 123.6 L854.4 125.0 L860.4 126.8 L866.4 129.5 L872.4 133.1 L878.4 136.6 L884.4 139.5 L890.4 142.1 L896.4 144.6 L902.4 146.8 L906.0 148.1" stroke="#58c029"/>
<path d="M168.8 437.8 L181.6 423.9 L190.5 419.6 L196.1 399.6 L196.6 391.0 L193.4 371.0 L194.1 365.0 L194.7 360.1 L195.7 345.7 L196.7 331.4 L197.8 317.0 L199.2 302.6 L200.8 288.3 L202.9 274.1 L206.5 260.2 L212.1 247.0 L218.6 234.1 L226.4 222.0 L234.3 209.9 L242.0 197.8 L250.0 185.8 L259.0 174.5 L270.2 165.7 L283.9 162.0 L294.0 165.3 L302.8 171.0 L310.6 178.3 L317.4 186.6 L323.6 195.2 L329.4 204.1 L334.8 213.1 L339.9 222.4 L344.7 231.9 L349.4 241.4 L353.8 251.1 L357.9 261.0 L361.8 270.9 L365.6 280.9 L370.2 290.6 L375.5 299.9 L381.4 308.7 L387.9 317.0 L395.5 324.1 L403.6 330.6 L412.5 336.3 L422.5 339.7 L427.6 339.1 L432.8 338.6 L438.0 337.9 L443.0 336.7 L448.1 335.5 L453.1 334.1 L457.6 331.8 L461.4 328.8 L464.4 321.3 L470.8 310.8 L481.5 298.6 L490.6 291.8 L496.7 284.8 L504.4 273.9 L509.0 265.6 L511.5 266.6 L520.0 258.6 L526.0 252.9 L535.4 244.1 L547.7 234.5 L553.0 230.9 L571.5 223.7 L587.0 218.3 L602.3 211.5 L617.7 204.4 L637.0 195.8 L660.0 184.9 L686.0 172.2 L720.0 157.6 L740.4 150.2 L746.4 147.1 L752.4 144.1 L758.4 141.3 L764.4 138.8 L770.4 136.5 L776.4 134.3 L782.4 132.0 L788.4 129.4 L794.4 126.8 L800.4 124.8 L806.4 123.1 L812.4 121.6 L818.4 120.6 L824.4 120.5 L830.4 120.4 L836.4 120.4 L842.4 120.5 L848.4 121.3 L854.4 122.6 L860.4 124.2 L866.4 126.8 L872.4 130.3 L878.4 133.8 L884.4 136.5 L890.4 139.1 L896.4 141.5 L902.4 143.7 L906.0 145.0" stroke="#6cc51e"/>
<path d="M168.8 432.7 L181.7 418.7 L190.6 414.7 L196.4 394.7 L196.6 391.0 L193.2 371.0 L194.0 365.0 L194.5 360.1 L195.5 345.7 L196.5 331.3 L197.5 316.9 L198.8 302.5 L200.4 288.2 L202.5 273.9 L206.0 260.0 L211.6 246.7 L218.1 233.8 L225.9 221.6 L233.9 209.6 L241.6 197.4 L249.7 185.4 L258.7 174.2 L269.9 165.4 L283.7 161.7 L293.8 164.9 L302.8 170.5 L310.6 177.7 L317.5 185.9 L323.9 194.4 L329.7 203.3 L335.2 212.3 L340.4 221.5 L345.3 230.9 L350.0 240.4 L354.5 250.1 L358.6 259.9 L362.6 269.8 L366.5 279.7 L371.1 289.3 L376.3 298.6 L382.3 307.4 L388.7 315.8 L396.2 323.0 L404.3 329.6 L413.1 335.3 L423.1 338.8 L428.2 338.2 L433.3 337.7 L438.3 337.0 L443.3 335.9 L448.3 334.7 L453.3 333.3 L457.7 331.0 L461.5 328.2 L464.4 321.4 L470.8 312.2 L481.5 301.0 L490.6 293.6 L496.7 286.0 L504.4 274.3 L509.0 265.7 L511.5 266.2 L520.0 258.1 L526.0 252.5 L535.4 243.7 L547.7 234.1 L553.0 230.4 L571.5 223.2 L587.0 217.8 L602.3 211.0 L617.7 203.8 L637.0 195.2 L660.0 184.2 L686.0 171.5 L720.0 156.6 L740.4 149.0 L746.4 145.7 L752.4 142.7 L758.4 139.8 L764.4 137.3 L770.4 135.0 L776.4 132.8 L782.4 130.5 L788.4 128.0 L794.4 125.5 L800.4 123.5 L806.4 121.7 L812.4 120.2 L818.4 119.2 L824.4 118.8 L830.4 118.5 L836.4 118.4 L842.4 118.4 L848.4 119.1 L854.4 120.2 L860.4 121.6 L866.4 124.1 L872.4 127.5 L878.4 131.0 L884.4 133.6 L890.4 136.1 L896.4 138.5 L902.4 140.6 L906.0 141.8" stroke="#78c91d"/>
<path d="M168.8 427.6 L181.9 413.5 L190.8 409.7 L196.4 389.7 L193.1 371.0 L193.8 365.0 L194.3 360.2 L195.3 345.7 L196.2 331.3 L197.3 316.8 L198.5 302.4 L200.0 288.0 L202.0 273.7 L205.5 259.7 L211.1 246.4 L217.6 233.5 L225.4 221.3 L233.5 209.3 L241.3 197.1 L249.3 185.1 L258.4 173.8 L269.7 165.0 L283.5 161.4 L293.6 164.5 L302.7 170.0 L310.6 177.1 L317.6 185.2 L324.1 193.7 L330.0 202.5 L335.6 211.4 L340.9 220.5 L345.8 229.9 L350.7 239.4 L355.2 249.0 L359.4 258.8 L363.4 268.6 L367.4 278.5 L372.0 288.1 L377.2 297.4 L383.1 306.2 L389.5 314.6 L397.0 321.9 L404.9 328.6 L413.7 334.4 L423.7 337.9 L428.7 337.3 L433.7 336.8 L438.7 336.2 L443.6 335.0 L448.6 333.9 L453.4 332.4 L457.8 330.3 L461.7 327.6 L464.4 321.5 L470.8 313.8 L481.5 303.6 L490.6 295.7 L496.7 287.3 L504.4 274.7 L509.0 265.8 L511.5 265.9 L520.0 257.6 L526.0 252.1 L535.4 243.3 L547.7 233.6 L553.0 230.0 L571.5 222.7 L587.0 217.3 L602.3 210.5 L617.7 203.2 L637.0 194.5 L660.0 183.5 L686.0 170.7 L720.0 155.5 L740.4 147.8 L746.4 144.4 L752.4 141.2 L758.4 138.4 L764.4 135.8 L770.4 133.5 L776.4 131.3 L782.4 129.0 L788.4 126.5 L794.4 124.1 L800.4 122.1 L806.4 120.4 L812.4 118.8 L818.4 117.7 L824.4 117.1 L830.4 116.6 L836.4 116.4 L842.4 116.4 L848.4 116.9 L854.4 117.9 L860.4 119.1 L866.4 121.3 L872.4 124.7 L878.4 128.1 L884.4 130.7 L890.4 133.2 L896.4 135.4 L902.4 137.5 L906.0 138.7" stroke="#83cc1f"/>
<path d="M168.8 422.5 L182.0 408.2 L191.0 404.8 L195.5 384.8 L193.0 371.0 L193.6 365.0 L194.1 360.2 L195.1 345.7 L196.0 331.2 L197.0 316.8 L198.2 302.3 L199.7 287.9 L201.6 273.6 L205.0 259.5 L210.6 246.1 L217.1 233.2 L225.0 221.0 L233.0 209.0 L240.9 196.7 L249.0 184.7 L258.1 173.5 L269.4 164.7 L283.3 161.1 L293.5 164.1 L302.6 169.5 L310.6 176.6 L317.7 184.5 L324.3 192.9 L330.3 201.7 L336.0 210.5 L341.4 219.6 L346.4 228.9 L351.3 238.3 L355.8 247.9 L360.1 257.6 L364.2 267.5 L368.3 277.3 L372.9 286.9 L378.1 296.2 L384.0 305.0 L390.3 313.4 L397.7 320.8 L405.6 327.6 L414.3 333.4 L424.3 336.9 L429.2 336.4 L434.2 336.0 L439.1 335.3 L444.0 334.2 L448.8 333.0 L453.6 331.6 L457.9 329.5 L461.9 327.0 L464.4 321.5 L470.8 315.3 L481.5 306.1 L490.6 297.7 L496.7 288.6 L504.4 275.1 L509.0 265.8 L511.5 265.6 L520.0 257.1 L526.0 251.7 L535.4 243.0 L547.7 233.2 L553.0 229.5 L571.5 222.2 L587.0 216.8 L602.3 210.0 L617.7 202.6 L637.0 193.8 L660.0 182.7 L686.0 169.9 L720.0 154.4 L740.4 146.6 L746.4 143.1 L752.4 139.8 L758.4 136.9 L764.4 134.3 L770.4 132.0 L776.4 129.8 L782.4 127.5 L788.4 125.1 L794.4 122.7 L800.4 120.7 L806.4 119.0 L812.4 117.4 L818.4 116.2 L824.4 115.4 L830.4 114.8 L836.4 114.4 L842.4 114.3 L848.4 114.7 L854.4 115.5 L860.4 116.5 L866.4 118.6 L872.4 122.0 L878.4 125.3 L884.4 127.8 L890.4 130.2 L896.4 132.4 L902.4 134.4 L906.0 135.6" stroke="#90d027"/>
<path d="M168.8 417.4 L182.1 403.0 L191.2 399.9 L194.5 379.9 L192.9 371.0 L193.5 365.0 L193.9 360.2 L194.8 345.7 L195.8 331.2 L196.7 316.7 L197.9 302.2 L199.3 287.7 L201.2 273.4 L204.5 259.3 L210.1 245.9 L216.6 232.9 L224.5 220.7 L232.6 208.6 L240.5 196.4 L248.6 184.4 L257.8 173.1 L269.1 164.4 L283.0 160.9 L293.3 163.7 L302.5 169.0 L310.6 176.0 L317.8 183.9 L324.5 192.2 L330.6 200.8 L336.4 209.6 L341.9 218.7 L347.0 227.9 L351.9 237.3 L356.5 246.8 L360.9 256.5 L365.0 266.3 L369.1 276.1 L373.8 285.7 L379.0 294.9 L384.8 303.8 L391.1 312.2 L398.4 319.7 L406.2 326.6 L414.9 332.4 L424.9 336.0 L429.8 335.5 L434.6 335.1 L439.5 334.5 L444.3 333.3 L449.0 332.2 L453.7 330.8 L458.1 328.8 L462.0 326.4 L464.4 321.7 L470.8 316.8 L481.5 308.7 L490.6 299.8 L496.7 289.8 L504.4 275.5 L509.0 265.9 L511.5 265.2 L520.0 256.6 L526.0 251.2 L535.4 242.6 L547.7 232.8 L553.0 229.0 L571.5 221.7 L587.0 216.3 L602.3 209.5 L617.7 202.1 L637.0 193.1 L660.0 182.0 L686.0 169.1 L720.0 153.4 L740.4 145.3 L746.4 141.7 L752.4 138.4 L758.4 135.4 L764.4 132.8 L770.4 130.5 L776.4 128.3 L782.4 126.0 L788.4 123.7 L794.4 121.4 L800.4 119.4 L806.4 117.6 L812.4 116.0 L818.4 114.7 L824.4 113.7 L830.4 112.9 L836.4 112.4 L842.4 112.3 L848.4 112.6 L854.4 113.1 L860.4 113.9 L866.4 115.9 L872.4 119.1 L878.4 122.4 L884.4 124.9 L890.4 127.2 L896.4 129.4 L902.4 131.3 L906.0 132.4" stroke="#a0d43d"/>
<path d="M168.8 412.3 L182.2 397.7 L191.4 394.9 L193.5 374.9 L192.7 371.0 L193.3 365.0 L193.7 360.2 L194.6 345.7 L195.5 331.1 L196.4 316.6 L197.6 302.1 L198.9 287.6 L200.8 273.2 L204.0 259.0 L209.7 245.6 L216.1 232.6 L224.0 220.4 L232.2 208.3 L240.1 196.1 L248.3 184.0 L257.4 172.7 L268.9 164.0 L282.8 160.6 L293.1 163.3 L302.4 168.5 L310.6 175.4 L317.9 183.2 L324.7 191.4 L330.9 200.0 L336.8 208.7 L342.3 217.7 L347.5 226.9 L352.5 236.3 L357.2 245.8 L361.6 255.4 L365.8 265.1 L370.0 274.9 L374.7 284.4 L379.9 293.7 L385.6 302.6 L391.9 311.0 L399.1 318.6 L406.9 325.6 L415.6 331.5 L425.5 335.0 L430.3 334.6 L435.1 334.2 L439.9 333.6 L444.6 332.5 L449.3 331.4 L453.9 330.0 L458.2 328.0 L462.2 325.8 L464.4 321.8 L470.8 317.2 L481.5 309.5 L490.6 300.3 L496.7 290.2 L504.4 275.6 L509.0 265.9 L511.5 264.9 L520.0 256.1 L526.0 250.8 L535.4 242.2 L547.7 232.3 L553.0 228.5 L571.5 221.2 L587.0 215.8 L602.3 209.0 L617.7 201.5 L637.0 192.5 L660.0 181.3 L686.0 168.3 L720.0 152.3 L740.4 144.1 L746.4 140.4 L752.4 137.0 L758.4 133.9 L764.4 131.3 L770.4 128.9 L776.4 126.8 L782.4 124.5 L788.4 122.2 L794.4 120.0 L800.4 118.0 L806.4 116.2 L812.4 114.6 L818.4 113.2 L824.4 112.1 L830.4 111.1 L836.4 110.3 L842.4 110.2 L848.4 110.4 L854.4 110.8 L860.4 111.3 L866.4 113.1 L872.4 116.3 L878.4 119.6 L884.4 122.0 L890.4 124.2 L896.4 126.3 L902.4 128.2 L906.0 129.3" stroke="#b0d952"/>
<path d="M168.8 407.2 L182.3 392.5 L191.6 390.0 L192.8 370.0 L193.2 365.0 L193.6 360.2 L194.5 345.7 L195.4 331.1 L196.3 316.6 L197.5 302.0 L198.8 287.5 L200.6 273.1 L203.8 258.9 L209.4 245.5 L215.9 232.4 L223.8 220.2 L232.0 208.2 L239.9 195.9 L248.1 183.9 L257.3 172.6 L268.8 163.9 L282.7 160.5 L293.0 163.1 L302.4 168.2 L310.6 174.9 L318.0 182.6 L324.9 190.7 L331.2 199.2 L337.2 207.8 L342.8 216.7 L348.1 225.9 L353.2 235.2 L357.9 244.6 L362.4 254.2 L366.7 263.9 L370.9 273.6 L375.6 283.1 L380.8 292.3 L386.5 301.2 L392.7 309.8 L399.9 317.4 L407.6 324.4 L416.2 330.4 L426.1 334.0 L430.9 333.6 L435.6 333.2 L440.3 332.7 L444.9 331.6 L449.5 330.4 L454.1 329.1 L458.3 327.2 L462.4 325.1 L464.4 322.0 L470.8 317.5 L481.5 310.1 L490.6 300.7 L496.7 290.5 L504.4 275.7 L509.0 266.0 L511.5 264.5 L520.0 255.7 L526.0 250.6 L535.4 242.0 L547.7 232.1 L553.0 228.3 L571.5 221.0 L587.0 215.6 L602.3 208.6 L617.7 201.1 L637.0 192.1 L660.0 180.9 L686.0 167.8 L720.0 151.2 L740.4 142.5 L746.4 138.9 L752.4 135.5 L758.4 132.5 L764.4 129.8 L770.4 127.6 L776.4 125.4 L782.4 123.2 L788.4 120.9 L794.4 118.7 L800.4 116.7 L806.4 114.9 L812.4 113.2 L818.4 111.8 L824.4 110.6 L830.4 109.3 L836.4 108.4 L842.4 108.3 L848.4 108.3 L854.4 108.3 L860.4 108.4 L866.4 109.9 L872.4 113.0 L878.4 116.1 L884.4 118.4 L890.4 120.6 L896.4 122.6 L902.4 124.5 L906.0 125.6" stroke="#b9dc60"/>
<path d="M168.8 402.1 L182.4 387.2 L191.7 385.1 L193.2 365.1 L193.6 360.2 L194.4 345.7 L195.3 331.1 L196.2 316.5 L197.4 302.0 L198.6 287.5 L200.4 273.0 L203.7 258.8 L209.3 245.4 L215.7 232.3 L223.7 220.1 L231.9 208.0 L239.8 195.8 L248.0 183.7 L257.2 172.5 L268.7 163.7 L282.7 160.4 L293.0 162.9 L302.3 167.8 L310.6 174.4 L318.1 182.0 L325.1 189.9 L331.6 198.3 L337.6 206.9 L343.3 215.8 L348.7 224.8 L353.8 234.1 L358.6 243.5 L363.2 253.0 L367.6 262.6 L371.9 272.3 L376.6 281.8 L381.8 291.0 L387.5 299.9 L393.6 308.4 L400.7 316.2 L408.3 323.3 L416.9 329.3 L426.8 332.9 L431.5 332.6 L436.1 332.3 L440.7 331.7 L445.3 330.6 L449.8 329.5 L454.3 328.1 L458.5 326.4 L462.5 324.4 L464.4 322.1 L470.8 317.7 L481.5 310.6 L490.6 301.1 L496.7 290.7 L504.4 275.8 L509.0 266.0 L511.5 264.2 L520.0 255.4 L526.0 250.4 L535.4 241.8 L547.7 231.9 L553.0 228.0 L571.5 220.7 L587.0 215.3 L602.3 208.4 L617.7 200.8 L637.0 191.7 L660.0 180.5 L686.0 167.4 L720.0 150.2 L740.4 140.9 L746.4 137.3 L752.4 134.0 L758.4 131.0 L764.4 128.4 L770.4 126.2 L776.4 124.1 L782.4 121.9 L788.4 119.6 L794.4 117.4 L800.4 115.4 L806.4 113.6 L812.4 111.9 L818.4 110.4 L824.4 109.1 L830.4 107.7 L836.4 106.7 L842.4 106.2 L848.4 105.9 L854.4 105.6 L860.4 105.6 L866.4 106.9 L872.4 109.7 L878.4 112.6 L884.4 114.8 L890.4 116.8 L896.4 118.8 L902.4 120.7 L906.0 121.8" stroke="#c1de6e"/>
<path d="M168.8 397.0 L182.5 382.0 L191.9 380.2 L193.5 360.2 L194.4 345.7 L195.2 331.1 L196.1 316.5 L197.3 302.0 L198.5 287.4 L200.3 272.9 L203.5 258.7 L209.1 245.3 L215.5 232.2 L223.5 220.0 L231.7 207.9 L239.7 195.7 L247.9 183.6 L257.1 172.3 L268.6 163.6 L282.6 160.3 L292.9 162.7 L302.3 167.5 L310.7 174.0 L318.2 181.4 L325.3 189.2 L331.9 197.5 L338.1 206.0 L343.8 214.8 L349.3 223.8 L354.5 233.0 L359.4 242.3 L364.0 251.8 L368.4 261.4 L372.8 271.0 L377.6 280.4 L382.8 289.6 L388.4 298.5 L394.5 307.1 L401.4 315.0 L409.1 322.2 L417.6 328.2 L427.5 331.9 L432.1 331.6 L436.6 331.3 L441.2 330.8 L445.6 329.7 L450.1 328.5 L454.4 327.2 L458.6 325.5 L462.7 323.7 L464.4 322.2 L470.8 318.0 L481.5 311.2 L490.6 301.5 L496.7 291.0 L504.4 276.0 L509.0 266.1 L511.5 263.9 L520.0 255.1 L526.0 250.1 L535.4 241.6 L547.7 231.6 L553.0 227.8 L571.5 220.4 L587.0 215.0 L602.3 208.1 L617.7 200.5 L637.0 191.3 L660.0 180.1 L686.0 167.0 L720.0 149.1 L740.4 139.3 L746.4 135.7 L752.4 132.5 L758.4 129.6 L764.4 127.0 L770.4 124.8 L776.4 122.7 L782.4 120.6 L788.4 118.3 L794.4 116.0 L800.4 114.0 L806.4 112.2 L812.4 110.6 L818.4 109.0 L824.4 107.6 L830.4 106.1 L836.4 104.9 L842.4 104.1 L848.4 103.4 L854.4 102.9 L860.4 102.7 L866.4 103.9 L872.4 106.4 L878.4 109.1 L884.4 111.1 L890.4 113.1 L896.4 115.0 L902.4 116.9 L906.0 118.1" stroke="#c8e17b"/>
<path d="M168.8 391.9 L182.6 376.7 L192.1 375.2 L193.4 360.2 L194.3 345.7 L195.1 331.1 L196.0 316.5 L197.1 301.9 L198.3 287.4 L200.1 272.9 L203.3 258.7 L208.9 245.2 L215.3 232.1 L223.3 219.9 L231.6 207.8 L239.5 195.5 L247.7 183.5 L257.0 172.2 L268.5 163.5 L282.5 160.2 L292.8 162.5 L302.2 167.2 L310.7 173.5 L318.3 180.8 L325.5 188.4 L332.2 196.6 L338.5 205.0 L344.3 213.8 L349.9 222.7 L355.1 231.9 L360.1 241.2 L364.8 250.6 L369.3 260.1 L373.8 269.7 L378.5 279.1 L383.7 288.3 L389.3 297.2 L395.4 305.8 L402.2 313.7 L409.8 321.0 L418.3 327.2 L428.2 330.8 L432.7 330.6 L437.1 330.3 L441.6 329.8 L446.0 328.7 L450.3 327.6 L454.6 326.3 L458.8 324.7 L462.9 323.0 L464.4 322.4 L470.8 318.2 L481.5 311.7 L490.6 301.9 L496.7 291.2 L504.4 276.1 L509.0 266.1 L511.5 263.5 L520.0 254.8 L526.0 249.9 L535.4 241.4 L547.7 231.4 L553.0 227.5 L571.5 220.2 L587.0 214.8 L602.3 207.8 L617.7 200.2 L637.0 191.0 L660.0 179.7 L686.0 166.5 L720.0 148.1 L740.4 137.6 L746.4 134.2 L752.4 131.0 L758.4 128.1 L764.4 125.6 L770.4 123.5 L776.4 121.4 L782.4 119.2 L788.4 117.0 L794.4 114.7 L800.4 112.7 L806.4 110.9 L812.4 109.2 L818.4 107.6 L824.4 106.1 L830.4 104.5 L836.4 103.1 L842.4 102.0 L848.4 101.0 L854.4 100.2 L860.4 99.9 L866.4 100.9 L872.4 103.1 L878.4 105.5 L884.4 107.5 L890.4 109.3 L896.4 111.2 L902.4 113.1 L906.0 114.3" stroke="#cee487"/>
<path d="M168.8 386.8 L182.7 371.5 L192.1 370.3 L193.3 360.2 L194.2 345.6 L195.1 331.0 L195.9 316.5 L197.0 301.9 L198.2 287.3 L199.9 272.8 L203.1 258.6 L208.7 245.1 L215.2 232.0 L223.1 219.7 L231.4 207.7 L239.4 195.4 L247.6 183.3 L256.8 172.1 L268.4 163.4 L282.4 160.1 L292.7 162.3 L302.2 166.8 L310.7 173.0 L318.4 180.2 L325.7 187.7 L332.5 195.8 L338.9 204.1 L344.9 212.8 L350.5 221.7 L355.8 230.8 L360.8 240.0 L365.6 249.4 L370.2 258.9 L374.7 268.4 L379.5 277.8 L384.7 286.9 L390.2 295.9 L396.2 304.5 L403.0 312.5 L410.5 319.9 L419.0 326.1 L428.8 329.7 L433.3 329.5 L437.7 329.3 L442.0 328.9 L446.3 327.8 L450.6 326.6 L454.8 325.3 L458.9 323.8 L463.1 322.3 L464.4 322.5 L470.8 318.5 L481.5 312.3 L490.6 302.3 L496.7 291.5 L504.4 276.2 L509.0 266.2 L511.5 263.2 L520.0 254.5 L526.0 249.7 L535.4 241.2 L547.7 231.2 L553.0 227.3 L571.5 219.9 L587.0 214.5 L602.3 207.5 L617.7 199.9 L637.0 190.6 L660.0 179.3 L686.0 166.1 L720.0 147.0 L740.4 136.0 L746.4 132.6 L752.4 129.5 L758.4 126.7 L764.4 124.2 L770.4 122.1 L776.4 120.0 L782.4 117.9 L788.4 115.7 L794.4 113.4 L800.4 111.4 L806.4 109.6 L812.4 107.9 L818.4 106.3 L824.4 104.6 L830.4 102.9 L836.4 101.3 L842.4 100.0 L848.4 98.6 L854.4 97.5 L860.4 97.0 L866.4 97.9 L872.4 99.9 L878.4 102.0 L884.4 103.8 L890.4 105.6 L896.4 107.4 L902.4 109.3 L906.0 110.5" stroke="#d4e792"/>
</g>
<text x="149.70" y="726" font-size="36.20" text-anchor="middle">0</text>
<text x="338.45" y="726" font-size="36.20" text-anchor="middle">1000</text>
<text x="527.20" y="726" font-size="36.20" text-anchor="middle">2000</text>
<text x="715.95" y="726" font-size="36.20" text-anchor="middle">3000</text>
<text x="904.70" y="726" font-size="36.20" text-anchor="middle">4000</text>
<text x="138.90" y="703.00" font-size="36.20" text-anchor="end">10<tspan font-size="25.34" dy="-13.70">−4</tspan></text>
<text x="138.90" y="535.50" font-size="36.20" text-anchor="end">10<tspan font-size="25.34" dy="-13.70">−3</tspan></text>
<text x="138.90" y="368.00" font-size="36.20" text-anchor="end">10<tspan font-size="25.34" dy="-13.70">−2</tspan></text>
<text x="138.90" y="200.50" font-size="36.20" text-anchor="end">10<tspan font-size="25.34" dy="-13.70">−1</tspan></text>
<text x="138.90" y="33.00" font-size="36.20" text-anchor="end">10<tspan font-size="25.34" dy="-13.70">0</tspan></text>
<text x="372.6" y="771.9" font-size="38.54">Temperature [K]</text>
<text transform="translate(35.00 452.44) rotate(-90)" font-size="38.50" font-style="italic">κ</text>
<text transform="translate(41.60 429.73) rotate(-90)" font-size="27.00" font-style="italic">R</text>
<text transform="translate(35.00 404.11) rotate(-90)" font-size="38.50">[cm</text>
<text transform="translate(20.40 330.27) rotate(-90)" font-size="27.00">2</text>
<text transform="translate(35.00 311.90) rotate(-90)" font-size="38.50">/g]</text>
<defs><linearGradient id="cbg" x1="0" y1="1" x2="0" y2="0">
<stop offset="0.000" stop-color="#000000"/>
<stop offset="0.050" stop-color="#0a0711"/>
<stop offset="0.100" stop-color="#161026"/>
<stop offset="0.150" stop-color="#1d163c"/>
<stop offset="0.200" stop-color="#241f58"/>
<stop offset="0.250" stop-color="#242e6a"/>
<stop offset="0.300" stop-color="#20426d"/>
<stop offset="0.350" stop-color="#1d516e"/>
<stop offset="0.400" stop-color="#1c5f73"/>
<stop offset="0.450" stop-color="#1d6c72"/>
<stop offset="0.500" stop-color="#1b796d"/>
<stop offset="0.550" stop-color="#168769"/>
<stop offset="0.600" stop-color="#0e9762"/>
<stop offset="0.650" stop-color="#11a158"/>
<stop offset="0.700" stop-color="#22ac4a"/>
<stop offset="0.750" stop-color="#3eba36"/>
<stop offset="0.800" stop-color="#70c61c"/>
<stop offset="0.850" stop-color="#8ace20"/>
<stop offset="0.900" stop-color="#b2d954"/>
<stop offset="0.950" stop-color="#c5e076"/>
<stop offset="1.000" stop-color="#d4e792"/>
</linearGradient></defs>
<rect x="914.10" y="20.30" width="33.70" height="670.00" fill="url(#cbg)" stroke="#000" stroke-width="2.1"/>
<line x1="947.80" y1="690.30" x2="938.80" y2="690.30" stroke="#000" stroke-width="2.4"/>
<text x="955.7" y="701.20" font-size="29.1">0.0</text>
<line x1="947.80" y1="556.30" x2="938.80" y2="556.30" stroke="#000" stroke-width="2.4"/>
<text x="955.7" y="567.20" font-size="29.1">0.2</text>
<line x1="947.80" y1="422.30" x2="938.80" y2="422.30" stroke="#000" stroke-width="2.4"/>
<text x="955.7" y="433.20" font-size="29.1">0.4</text>
<line x1="947.80" y1="288.30" x2="938.80" y2="288.30" stroke="#000" stroke-width="2.4"/>
<text x="955.7" y="299.20" font-size="29.1">0.6</text>
<line x1="947.80" y1="154.30" x2="938.80" y2="154.30" stroke="#000" stroke-width="2.4"/>
<text x="955.7" y="165.20" font-size="29.1">0.8</text>
<line x1="947.80" y1="20.30" x2="938.80" y2="20.30" stroke="#000" stroke-width="2.4"/>
<text x="955.7" y="31.20" font-size="29.1">1.0</text>
<text transform="translate(1043.90 507.41) rotate(-90)" font-size="35.85">Density [g cm</text>
<text transform="translate(1030.20 256.46) rotate(-90)" font-size="25.10">−3</text>
<text transform="translate(1043.90 218.18) rotate(-90)" font-size="35.85">]</text>
<line x1="1281.70" y1="1.85" x2="1281.70" y2="660.20" stroke="#b0b0b0" stroke-opacity="0.55" stroke-width="1.9"/>
<line x1="1555.55" y1="1.85" x2="1555.55" y2="660.20" stroke="#b0b0b0" stroke-opacity="0.55" stroke-width="1.9"/>
<line x1="1829.40" y1="1.85" x2="1829.40" y2="660.20" stroke="#b0b0b0" stroke-opacity="0.55" stroke-width="1.9"/>
<g stroke="#000" fill="none" clip-path="url(#clipR)">
<path d="M1269.17 660.20V650.50M1269.17 1.85V11.55" stroke-width="4.6"/>
<path d="M1281.70 660.20V633.80M1281.70 1.85V28.25" stroke-width="4.9"/>
<path d="M1364.14 660.20V650.50M1364.14 1.85V11.55" stroke-width="4.6"/>
<path d="M1412.36 660.20V650.50M1412.36 1.85V11.55" stroke-width="4.6"/>
<path d="M1446.57 660.20V650.50M1446.57 1.85V11.55" stroke-width="4.6"/>
<path d="M1473.11 660.20V650.50M1473.11 1.85V11.55" stroke-width="4.6"/>
<path d="M1494.80 660.20V650.50M1494.80 1.85V11.55" stroke-width="4.6"/>
<path d="M1513.13 660.20V650.50M1513.13 1.85V11.55" stroke-width="4.6"/>
<path d="M1529.01 660.20V650.50M1529.01 1.85V11.55" stroke-width="4.6"/>
<path d="M1543.02 660.20V650.50M1543.02 1.85V11.55" stroke-width="4.6"/>
<path d="M1555.55 660.20V633.80M1555.55 1.85V28.25" stroke-width="4.9"/>
<path d="M1637.99 660.20V650.50M1637.99 1.85V11.55" stroke-width="4.6"/>
<path d="M1686.21 660.20V650.50M1686.21 1.85V11.55" stroke-width="4.6"/>
<path d="M1720.42 660.20V650.50M1720.42 1.85V11.55" stroke-width="4.6"/>
<path d="M1746.96 660.20V650.50M1746.96 1.85V11.55" stroke-width="4.6"/>
<path d="M1768.65 660.20V650.50M1768.65 1.85V11.55" stroke-width="4.6"/>
<path d="M1786.98 660.20V650.50M1786.98 1.85V11.55" stroke-width="4.6"/>
<path d="M1802.86 660.20V650.50M1802.86 1.85V11.55" stroke-width="4.6"/>
<path d="M1816.87 660.20V650.50M1816.87 1.85V11.55" stroke-width="4.6"/>
<path d="M1829.40 660.20V633.80M1829.40 1.85V28.25" stroke-width="4.9"/>
<path d="M1911.84 660.20V650.50M1911.84 1.85V11.55" stroke-width="4.6"/>
<path d="M1960.06 660.20V650.50M1960.06 1.85V11.55" stroke-width="4.6"/>
<path d="M1994.27 660.20V650.50M1994.27 1.85V11.55" stroke-width="4.6"/>
<path d="M2020.81 660.20V650.50M2020.81 1.85V11.55" stroke-width="4.6"/>
<path d="M2042.50 660.20V650.50M2042.50 1.85V11.55" stroke-width="4.6"/>
</g>
<line x1="1260.60" y1="648.30" x2="2041.50" y2="648.30" stroke="#b0b0b0" stroke-opacity="0.55" stroke-width="1.9"/>
<line x1="1260.60" y1="491.80" x2="2041.50" y2="491.80" stroke="#b0b0b0" stroke-opacity="0.55" stroke-width="1.9"/>
<line x1="1260.60" y1="335.30" x2="2041.50" y2="335.30" stroke="#b0b0b0" stroke-opacity="0.55" stroke-width="1.9"/>
<line x1="1260.60" y1="178.80" x2="2041.50" y2="178.80" stroke="#b0b0b0" stroke-opacity="0.55" stroke-width="1.9"/>
<line x1="1260.60" y1="22.30" x2="2041.50" y2="22.30" stroke="#b0b0b0" stroke-opacity="0.55" stroke-width="1.9"/>
<g stroke="#000" fill="none" clip-path="url(#clipR)">
<path d="M1260.60 655.46H1270.30M2041.50 655.46H2031.80" stroke-width="3.3"/>
<path d="M1260.60 648.30H1287.00M2041.50 648.30H2015.10" stroke-width="3.7"/>
<path d="M1260.60 601.19H1270.30M2041.50 601.19H2031.80" stroke-width="3.3"/>
<path d="M1260.60 573.63H1270.30M2041.50 573.63H2031.80" stroke-width="3.3"/>
<path d="M1260.60 554.08H1270.30M2041.50 554.08H2031.80" stroke-width="3.3"/>
<path d="M1260.60 538.91H1270.30M2041.50 538.91H2031.80" stroke-width="3.3"/>
<path d="M1260.60 526.52H1270.30M2041.50 526.52H2031.80" stroke-width="3.3"/>
<path d="M1260.60 516.04H1270.30M2041.50 516.04H2031.80" stroke-width="3.3"/>
<path d="M1260.60 506.97H1270.30M2041.50 506.97H2031.80" stroke-width="3.3"/>
<path d="M1260.60 498.96H1270.30M2041.50 498.96H2031.80" stroke-width="3.3"/>
<path d="M1260.60 491.80H1287.00M2041.50 491.80H2015.10" stroke-width="3.7"/>
<path d="M1260.60 444.69H1270.30M2041.50 444.69H2031.80" stroke-width="3.3"/>
<path d="M1260.60 417.13H1270.30M2041.50 417.13H2031.80" stroke-width="3.3"/>
<path d="M1260.60 397.58H1270.30M2041.50 397.58H2031.80" stroke-width="3.3"/>
<path d="M1260.60 382.41H1270.30M2041.50 382.41H2031.80" stroke-width="3.3"/>
<path d="M1260.60 370.02H1270.30M2041.50 370.02H2031.80" stroke-width="3.3"/>
<path d="M1260.60 359.54H1270.30M2041.50 359.54H2031.80" stroke-width="3.3"/>
<path d="M1260.60 350.47H1270.30M2041.50 350.47H2031.80" stroke-width="3.3"/>
<path d="M1260.60 342.46H1270.30M2041.50 342.46H2031.80" stroke-width="3.3"/>
<path d="M1260.60 335.30H1287.00M2041.50 335.30H2015.10" stroke-width="3.7"/>
<path d="M1260.60 288.19H1270.30M2041.50 288.19H2031.80" stroke-width="3.3"/>
<path d="M1260.60 260.63H1270.30M2041.50 260.63H2031.80" stroke-width="3.3"/>
<path d="M1260.60 241.08H1270.30M2041.50 241.08H2031.80" stroke-width="3.3"/>
<path d="M1260.60 225.91H1270.30M2041.50 225.91H2031.80" stroke-width="3.3"/>
<path d="M1260.60 213.52H1270.30M2041.50 213.52H2031.80" stroke-width="3.3"/>
<path d="M1260.60 203.04H1270.30M2041.50 203.04H2031.80" stroke-width="3.3"/>
<path d="M1260.60 193.97H1270.30M2041.50 193.97H2031.80" stroke-width="3.3"/>
<path d="M1260.60 185.96H1270.30M2041.50 185.96H2031.80" stroke-width="3.3"/>
<path d="M1260.60 178.80H1287.00M2041.50 178.80H2015.10" stroke-width="3.7"/>
<path d="M1260.60 131.69H1270.30M2041.50 131.69H2031.80" stroke-width="3.3"/>
<path d="M1260.60 104.13H1270.30M2041.50 104.13H2031.80" stroke-width="3.3"/>
<path d="M1260.60 84.58H1270.30M2041.50 84.58H2031.80" stroke-width="3.3"/>
<path d="M1260.60 69.41H1270.30M2041.50 69.41H2031.80" stroke-width="3.3"/>
<path d="M1260.60 57.02H1270.30M2041.50 57.02H2031.80" stroke-width="3.3"/>
<path d="M1260.60 46.54H1270.30M2041.50 46.54H2031.80" stroke-width="3.3"/>
<path d="M1260.60 37.47H1270.30M2041.50 37.47H2031.80" stroke-width="3.3"/>
<path d="M1260.60 29.46H1270.30M2041.50 29.46H2031.80" stroke-width="3.3"/>
<path d="M1260.60 22.30H1287.00M2041.50 22.30H2015.10" stroke-width="3.7"/>
</g>
<g fill="none" clip-path="url(#clipR)">
<path d="M1808.6 194.3 L2006.8 45.2" stroke="#000" stroke-width="7.4" stroke-linecap="square"/>
<path d="M1295.4 624.6 L1370 592.3 L1440 561.5 L1520 526 L1600 490 L1640 471.7 L1700 443 L1740 423.3 L1775.6 406 L1805.8 184 L2007 32.2" stroke="#008000" stroke-width="5.4" stroke-dasharray="17.6 7.7" stroke-linejoin="miter"/>
<path d="M1471.8 630.3 L1479.7 629.1 L1487.6 628.0 L1495.5 626.8 L1503.5 625.6 L1511.4 624.4 L1519.3 623.1 L1527.2 621.9 L1535.1 620.5 L1542.9 619.2 L1550.8 617.8 L1558.7 616.3 L1566.5 614.7 L1574.4 613.2 L1582.2 611.5 L1590.0 609.9 L1597.8 608.2 L1605.7 606.5 L1613.5 604.8 L1621.3 603.1 L1629.1 601.4 L1636.9 599.7 L1644.7 597.9 L1652.5 596.0 L1660.3 594.1 L1668.0 592.1 L1675.7 590.0 L1683.4 587.9 L1691.1 585.7 L1698.8 583.4 L1706.5 581.2 L1714.2 578.9 L1715.3 578.6 L1806.8 369.4 L1885.4 263.1 L1926.2 230.0 L1951.5 200.8 L1993.0 152.3 L2006.0 142.0" stroke="#0000ff" stroke-width="8" stroke-linecap="square" stroke-linejoin="round"/>
<circle cx="1820.3" cy="328.5" r="7.7" fill="#ff0000"/><circle cx="1812" cy="341.5" r="7.7" fill="#ff0000"/>
<path d="M1308.8 623.8 L1316.8 623.6 L1324.8 623.3 L1332.8 623.1 L1340.8 622.8 L1348.8 622.5 L1356.8 622.2 L1364.8 621.8 L1372.8 621.3 L1380.7 620.8 L1388.7 620.3 L1396.7 619.7 L1404.7 619.0 L1412.6 618.3 L1420.6 617.6 L1428.6 616.8 L1436.5 616.0 L1444.5 615.1 L1452.4 614.2 L1460.4 613.3 L1468.3 612.4 L1476.3 611.4 L1484.2 610.4 L1492.1 609.3 L1500.1 608.2 L1508.0 607.0 L1515.9 605.8 L1523.8 604.5 L1531.7 603.3 L1539.6 601.9 L1547.4 600.6 L1555.3 599.2 L1563.2 597.8 L1571.1 596.4 L1579.0 595.0 L1586.8 593.5 L1594.7 592.0 L1602.5 590.5 L1610.4 588.9 L1618.2 587.2 L1626.0 585.5 L1633.8 583.7 L1641.6 581.9 L1649.4 580.0 L1657.1 578.0 L1664.8 575.9 L1672.5 573.7 L1680.2 571.4 L1687.8 569.1 L1695.5 566.6 L1703.1 564.1 L1709.5 562.0 L1711.7 557.5 L1713.7 552.9 L1715.5 548.3 L1717.1 543.5 L1718.4 538.7 L1719.8 533.9 L1721.1 529.0 L1722.3 524.2 L1723.6 519.4 L1725.0 514.6 L1726.3 509.7 L1727.8 505.0 L1729.4 500.2 L1731.1 495.5 L1732.9 490.9 L1734.9 486.3 L1737.0 481.7 L1739.2 477.3 L1741.6 472.8 L1744.0 468.4 L1746.4 464.1 L1749.0 459.8 L1751.7 455.6 L1754.4 451.4 L1757.2 447.2 L1760.1 443.1 L1763.0 439.1 L1766.0 435.0 L1768.8 430.9 L1771.6 426.7 L1774.3 422.5 L1776.9 418.3 L1779.3 413.9 L1781.5 409.5 L1783.6 404.9 L1785.6 400.4 L1787.4 395.7 L1789.3 391.1 L1791.0 386.4 L1792.8 381.7 L1794.6 377.0 L1796.5 372.3 L1798.5 367.7 L1800.6 363.2 L1802.8 358.7 L1805.0 354.2 L1807.4 349.8 L1809.9 345.5 L1812.4 341.2 L1815.1 336.9 L1817.7 332.7 L1820.5 328.5 L1823.2 324.3 L1826.1 320.2 L1828.9 316.1 L1831.9 312.0 L1834.8 308.0 L1837.8 304.0 L1840.8 300.0 L1843.8 296.0 L1846.9 292.0 L1849.9 288.1 L1853.1 284.2 L1856.2 280.3 L1859.3 276.4 L1862.5 272.6 L1865.7 268.7 L1869.0 264.9 L1872.2 261.1 L1875.5 257.3 L1878.8 253.6 L1882.1 249.8 L1884.6 246.9 L1924.6 215.4 L1959.2 172.3 L1991.5 136.0 L2002.3 127.2" stroke="#ffa500" stroke-width="8" stroke-dasharray="27 11" stroke-linejoin="round"/>
</g>
<text transform="translate(1497 501.7) rotate(-25)" font-size="26.5" fill="#008000" text-anchor="middle" dominant-baseline="central">Stevenson et.al (1977)</text>
<text transform="translate(1903.6 344.2) rotate(-50)" font-size="26.5" fill="#0000ff" text-anchor="middle" dominant-baseline="central">French et.al (2012)</text>
<rect x="1273.9" y="15.8" width="417.9" height="199.6" rx="4.5" fill="#fff" fill-opacity="0.8" stroke="#cccccc" stroke-opacity="0.8" stroke-width="2"/>
<line x1="1284.4" y1="36.7" x2="1337.2" y2="36.7" stroke="#000" stroke-width="7.2" stroke-linecap="square"/>
<line x1="1284.2" y1="75.1" x2="1337" y2="75.1" stroke="#008000" stroke-width="5.3" stroke-dasharray="17.8 7.9"/>
<line x1="1284.4" y1="113.7" x2="1337.2" y2="113.7" stroke="#0000ff" stroke-width="7.4" stroke-linecap="square"/>
<circle cx="1310.8" cy="154.6" r="7.9" fill="#ff0000"/>
<path d="M1284.2 191.1H1310.4M1322.4 191.1H1337" stroke="#ffa500" stroke-width="7.7" fill="none"/><circle cx="1310.4" cy="191.1" r="3.85" fill="#ffa500"/>
<text x="1358" y="45.8" font-size="26.4">Hubbard (1968)</text>
<text x="1358" y="84.2" font-size="26.4">Stevenson et.al (1977)</text>
<text x="1358" y="122.8" font-size="26.4">French et.al (2012)</text>
<text x="1358" y="161.3" font-size="26.4">Zaghoo &amp; Silvera (2017)</text>
<text x="1358" y="200.2" font-size="26.4">This work</text>
<rect x="1260.60" y="1.85" width="780.90" height="658.35" fill="none" stroke="#000" stroke-width="5.5"/>
<text x="1281.20" y="696.20" font-size="36.20" text-anchor="middle">10<tspan font-size="25.34" dy="-13.70">−2</tspan></text>
<text x="1555.05" y="696.20" font-size="36.20" text-anchor="middle">10<tspan font-size="25.34" dy="-13.70">−1</tspan></text>
<text x="1828.90" y="696.20" font-size="36.20" text-anchor="middle">10<tspan font-size="25.34" dy="-13.70">0</tspan></text>
<text x="1250.40" y="661.10" font-size="36.20" text-anchor="end">10<tspan font-size="25.34" dy="-13.70">5</tspan></text>
<text x="1250.40" y="504.60" font-size="36.20" text-anchor="end">10<tspan font-size="25.34" dy="-13.70">6</tspan></text>
<text x="1250.40" y="348.10" font-size="36.20" text-anchor="end">10<tspan font-size="25.34" dy="-13.70">7</tspan></text>
<text x="1250.40" y="191.60" font-size="36.20" text-anchor="end">10<tspan font-size="25.34" dy="-13.70">8</tspan></text>
<text x="1250.40" y="35.10" font-size="36.20" text-anchor="end">10<tspan font-size="25.34" dy="-13.70">9</tspan></text>
<text x="1543.54" y="750.90" font-size="41.30" font-style="italic">ρ</text>
<text x="1581.55" y="750.90" font-size="41.30">[g</text>
<text x="1636.63" y="750.90" font-size="41.30">cm</text>
<text x="1698.84" y="735.30" font-size="28.90">−3</text>
<text x="1741.79" y="750.90" font-size="41.30">]</text>
<text transform="translate(1167.30 541.39) rotate(-90)" font-size="38.87" font-style="italic">λ</text>
<text transform="translate(1174.10 519.30) rotate(-90)" font-size="27.20">cd</text>
<text transform="translate(1167.30 474.14) rotate(-90)" font-size="38.87">[ergs cm</text>
<text transform="translate(1152.70 304.78) rotate(-90)" font-size="27.20">−1</text>
<text transform="translate(1167.30 263.60) rotate(-90)" font-size="38.87">s</text>
<text transform="translate(1152.70 243.48) rotate(-90)" font-size="27.20">−1</text>
<text transform="translate(1167.30 203.01) rotate(-90)" font-size="38.87">K</text>
<text transform="translate(1152.70 177.48) rotate(-90)" font-size="27.20">−1</text>
<text transform="translate(1167.30 137.17) rotate(-90)" font-size="38.87">]</text>
</svg>
</body></html>
